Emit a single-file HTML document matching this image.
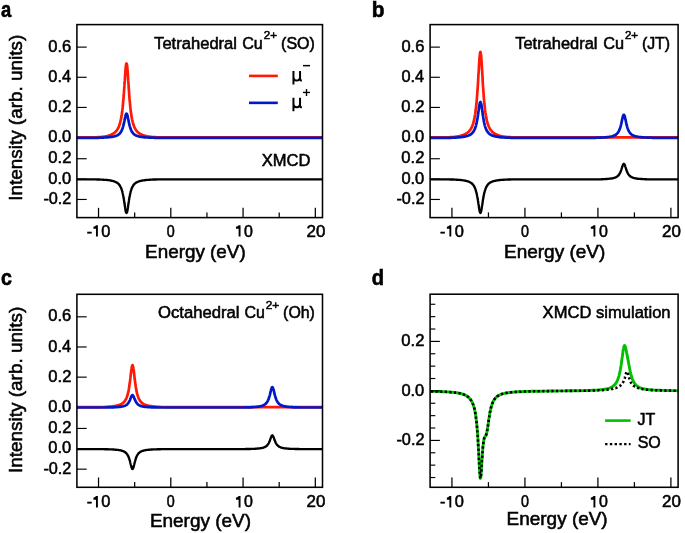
<!DOCTYPE html>
<html><head><meta charset="utf-8"><title>XMCD figure</title><style>
html,body{margin:0;padding:0;background:#fff;width:685px;height:533px;overflow:hidden;position:relative}
svg text{font-family:"Liberation Sans", sans-serif}
</style></head><body>
<svg width="685" height="533" viewBox="0 0 685 533" style="position:absolute;left:0;top:0;will-change:transform"><g font-family='"Liberation Sans", sans-serif' fill="#000" stroke="#000" stroke-width="0.55"><clipPath id="ca"><rect x="76.9" y="21.6" width="245.6" height="196.0"/></clipPath>
<line x1="98.53" y1="217.6" x2="98.53" y2="207.80" stroke="#000" stroke-width="1.25"/>
<line x1="170.80" y1="217.6" x2="170.80" y2="207.80" stroke="#000" stroke-width="1.25"/>
<line x1="243.07" y1="217.6" x2="243.07" y2="207.80" stroke="#000" stroke-width="1.25"/>
<line x1="315.33" y1="217.6" x2="315.33" y2="207.80" stroke="#000" stroke-width="1.25"/>
<line x1="134.67" y1="217.6" x2="134.67" y2="212.40" stroke="#000" stroke-width="1.25"/>
<line x1="206.93" y1="217.6" x2="206.93" y2="212.40" stroke="#000" stroke-width="1.25"/>
<line x1="279.20" y1="217.6" x2="279.20" y2="212.40" stroke="#000" stroke-width="1.25"/>
<line x1="76.9" y1="47.12" x2="86.70" y2="47.12" stroke="#000" stroke-width="1.15"/>
<line x1="76.9" y1="77.28" x2="86.70" y2="77.28" stroke="#000" stroke-width="1.15"/>
<line x1="76.9" y1="107.44" x2="86.70" y2="107.44" stroke="#000" stroke-width="1.15"/>
<line x1="76.9" y1="137.60" x2="86.70" y2="137.60" stroke="#000" stroke-width="1.15"/>
<line x1="76.9" y1="158.74" x2="86.70" y2="158.74" stroke="#000" stroke-width="1.15"/>
<line x1="76.9" y1="179.10" x2="86.70" y2="179.10" stroke="#000" stroke-width="1.15"/>
<line x1="76.9" y1="199.46" x2="86.70" y2="199.46" stroke="#000" stroke-width="1.15"/>
<path d="M73.2 137.4L74.1 137.4L75.0 137.4L75.8 137.4L76.7 137.4L77.6 137.4L78.4 137.4L79.3 137.4L80.2 137.4L81.0 137.4L81.9 137.4L82.8 137.4L83.6 137.4L84.5 137.4L85.4 137.4L86.2 137.4L87.1 137.4L88.0 137.4L88.8 137.4L89.7 137.4L90.6 137.4L91.5 137.4L92.3 137.4L93.2 137.3L94.1 137.3L94.9 137.3L95.8 137.3L96.7 137.3L97.5 137.2L98.4 137.2L99.3 137.1L100.1 137.0L101.0 137.0L101.9 136.9L102.7 136.8L103.6 136.7L104.5 136.5L105.3 136.4L106.2 136.2L107.1 136.0L107.9 135.8L108.8 135.6L109.4 135.4L109.6 135.3L109.7 135.3L109.8 135.2L110.0 135.2L110.2 135.1L110.5 135.0L110.7 134.9L110.9 134.8L111.1 134.7L111.3 134.6L111.4 134.6L111.5 134.5L111.8 134.4L112.0 134.3L112.2 134.2L112.3 134.2L112.4 134.1L112.6 134.0L112.8 133.9L113.1 133.8L113.1 133.7L113.3 133.6L113.5 133.5L113.7 133.3L113.9 133.2L114.0 133.1L114.1 133.0L114.4 132.9L114.6 132.7L114.8 132.5L114.9 132.5L115.0 132.3L115.2 132.1L115.4 131.9L115.7 131.7L115.7 131.6L115.9 131.5L116.1 131.2L116.3 131.0L116.5 130.7L116.6 130.6L116.7 130.4L117.0 130.1L117.2 129.8L117.4 129.5L117.5 129.4L117.6 129.1L117.8 128.7L118.0 128.3L118.3 127.9L118.3 127.8L118.5 127.4L118.7 126.9L118.9 126.4L119.1 125.9L119.2 125.7L119.3 125.3L119.6 124.6L119.8 123.9L120.0 123.2L120.1 122.9L120.2 122.4L120.4 121.5L120.6 120.6L120.9 119.6L120.9 119.2L121.1 118.5L121.3 117.3L121.5 116.0L121.7 114.7L121.8 114.2L121.9 113.2L122.2 111.6L122.4 109.8L122.6 107.9L122.7 107.2L122.8 105.9L123.0 103.6L123.2 101.3L123.5 98.7L123.5 97.8L123.7 96.0L123.9 93.1L124.1 90.1L124.3 86.9L124.4 85.9L124.5 83.7L124.8 80.4L125.0 77.2L125.2 74.1L125.3 73.1L125.4 71.2L125.6 68.6L125.8 66.4L126.1 64.8L126.1 64.4L126.3 63.8L126.5 63.5L126.7 63.8L126.9 64.8L127.0 65.3L127.2 66.4L127.4 68.6L127.6 71.2L127.8 74.1L127.9 75.1L128.0 77.2L128.2 80.4L128.5 83.7L128.7 86.9L128.7 88.0L128.9 90.1L129.1 93.1L129.3 96.0L129.5 98.7L129.6 99.6L129.8 101.3L130.0 103.6L130.2 105.9L130.4 107.9L130.5 108.6L130.6 109.8L130.8 111.6L131.1 113.2L131.3 114.7L131.3 115.1L131.5 116.0L131.7 117.3L131.9 118.5L132.1 119.6L132.2 119.9L132.4 120.6L132.6 121.5L132.8 122.4L133.0 123.2L133.1 123.4L133.2 123.9L133.4 124.6L133.7 125.3L133.9 125.9L133.9 126.1L134.1 126.4L134.3 126.9L134.5 127.4L134.7 127.9L134.8 128.0L135.0 128.3L135.2 128.7L135.4 129.1L135.6 129.5L135.7 129.6L135.8 129.8L136.0 130.1L136.3 130.4L136.5 130.7L136.5 130.8L136.7 131.0L136.9 131.2L137.1 131.5L137.3 131.7L137.4 131.8L137.6 131.9L137.8 132.1L138.0 132.3L138.2 132.5L138.3 132.6L138.4 132.7L138.6 132.9L138.9 133.0L139.1 133.2L139.3 133.3L139.5 133.5L139.7 133.6L139.9 133.8L140.0 133.8L140.2 133.9L140.4 134.0L140.6 134.1L140.8 134.2L140.9 134.3L141.0 134.3L141.2 134.4L141.5 134.5L141.7 134.6L141.7 134.7L141.9 134.7L142.1 134.8L142.3 134.9L142.5 135.0L142.6 135.0L142.8 135.1L143.0 135.2L143.2 135.2L143.4 135.3L143.5 135.3L143.6 135.4L143.8 135.4L144.1 135.5L144.3 135.6L144.4 135.6L144.5 135.6L144.7 135.7L144.9 135.8L145.1 135.8L145.2 135.8L145.4 135.9L146.1 136.0L147.0 136.2L147.8 136.4L148.7 136.6L149.6 136.7L150.4 136.8L151.3 136.9L152.2 137.0L153.0 137.1L153.9 137.1L154.8 137.2L155.6 137.2L156.5 137.3L157.4 137.3L158.2 137.3L159.1 137.3L160.0 137.3L160.8 137.4L161.7 137.4L162.6 137.4L163.4 137.4L164.3 137.4L165.2 137.4L166.0 137.4L166.9 137.4L167.8 137.4L168.6 137.4L169.5 137.4L170.4 137.4L171.2 137.4L172.1 137.4L173.0 137.4L173.8 137.4L174.7 137.4L175.6 137.4L176.4 137.4L177.3 137.4L178.2 137.4L179.0 137.4L179.9 137.4L180.8 137.4L181.6 137.4L182.5 137.4L183.4 137.4L184.2 137.4L185.1 137.4L186.0 137.4L186.8 137.4L187.7 137.4L188.6 137.4L189.4 137.4L190.3 137.4L191.2 137.4L192.0 137.4L192.9 137.4L193.8 137.4L194.6 137.4L195.5 137.4L196.4 137.4L197.2 137.4L198.1 137.4L199.0 137.4L199.9 137.4L200.7 137.4L201.6 137.4L202.5 137.4L203.3 137.4L204.2 137.4L205.1 137.4L205.9 137.4L206.8 137.4L207.7 137.4L208.5 137.4L209.4 137.4L210.3 137.4L211.1 137.4L212.0 137.4L212.9 137.4L213.7 137.4L214.6 137.4L215.5 137.4L216.3 137.4L217.2 137.4L218.1 137.4L218.9 137.4L219.8 137.4L220.7 137.4L221.5 137.4L222.4 137.4L223.3 137.4L224.1 137.4L225.0 137.4L225.9 137.4L226.7 137.4L227.6 137.4L228.5 137.4L229.3 137.4L230.2 137.4L231.1 137.4L231.9 137.4L232.8 137.4L233.7 137.4L234.5 137.4L235.4 137.4L236.3 137.4L237.1 137.4L238.0 137.4L238.9 137.4L239.7 137.4L240.6 137.4L241.5 137.4L242.3 137.4L243.2 137.4L244.1 137.4L244.9 137.4L245.8 137.4L246.7 137.4L247.5 137.4L248.4 137.4L249.3 137.4L250.1 137.4L251.0 137.4L251.9 137.4L252.8 137.4L253.6 137.4L254.5 137.4L255.4 137.4L256.2 137.4L257.1 137.4L257.5 137.4L257.7 137.4L258.0 137.4L258.2 137.4L258.4 137.4L258.6 137.4L258.8 137.4L259.0 137.4L259.3 137.4L259.5 137.4L259.7 137.4L259.9 137.4L260.1 137.4L260.3 137.4L260.6 137.4L260.8 137.4L261.0 137.4L261.2 137.4L261.4 137.4L261.6 137.4L261.9 137.4L262.1 137.4L262.3 137.4L262.5 137.4L262.7 137.4L262.9 137.4L263.2 137.4L263.4 137.4L263.6 137.4L263.8 137.4L264.0 137.4L264.2 137.4L264.5 137.4L264.7 137.4L264.9 137.4L265.1 137.4L265.3 137.4L265.5 137.4L265.8 137.4L266.0 137.4L266.2 137.4L266.4 137.4L266.6 137.4L266.8 137.4L267.1 137.4L267.3 137.4L267.5 137.4L267.7 137.4L267.9 137.4L268.1 137.4L268.4 137.4L268.6 137.4L268.8 137.4L269.0 137.4L269.2 137.4L269.4 137.4L269.7 137.4L269.9 137.4L270.1 137.4L270.3 137.4L270.5 137.4L270.7 137.4L271.0 137.4L271.2 137.4L271.4 137.4L271.6 137.4L271.8 137.4L272.0 137.4L272.3 137.4L272.5 137.4L272.7 137.4L272.9 137.4L273.1 137.4L273.3 137.4L273.6 137.4L273.8 137.4L274.0 137.4L274.2 137.4L274.4 137.4L274.6 137.4L274.9 137.4L275.1 137.4L275.3 137.4L275.5 137.4L275.7 137.4L275.9 137.4L276.2 137.4L276.4 137.4L276.6 137.4L276.8 137.4L277.0 137.4L277.2 137.4L277.5 137.4L277.7 137.4L277.9 137.4L278.1 137.4L278.3 137.4L278.6 137.4L278.8 137.4L279.0 137.4L279.2 137.4L279.4 137.4L279.6 137.4L279.9 137.4L280.1 137.4L280.3 137.4L280.5 137.4L280.7 137.4L280.9 137.4L281.2 137.4L281.4 137.4L281.6 137.4L281.8 137.4L282.0 137.4L282.2 137.4L282.5 137.4L282.7 137.4L282.9 137.4L283.1 137.4L283.3 137.4L283.5 137.4L283.8 137.4L284.0 137.4L284.2 137.4L284.4 137.4L284.6 137.4L284.8 137.4L285.1 137.4L285.3 137.4L285.5 137.4L285.7 137.4L285.9 137.4L286.1 137.4L286.4 137.4L286.6 137.4L287.4 137.4L288.3 137.4L289.2 137.4L290.0 137.4L290.9 137.4L291.8 137.4L292.6 137.4L293.5 137.4L294.4 137.4L295.2 137.4L296.1 137.4L297.0 137.4L297.8 137.4L298.7 137.4L299.6 137.4L300.4 137.4L301.3 137.4L302.2 137.4L303.0 137.4L303.9 137.4L304.8 137.4L305.7 137.4L306.5 137.4L307.4 137.4L308.3 137.4L309.1 137.4L310.0 137.4L310.9 137.4L311.7 137.4L312.6 137.4L313.5 137.4L314.3 137.4L315.2 137.4L316.1 137.4L316.9 137.4L317.8 137.4L318.7 137.4L319.5 137.4L320.4 137.4L321.3 137.4L322.1 137.4L323.0 137.4L323.9 137.4L324.7 137.4L325.6 137.4L326.5 137.4" fill="none" stroke="#ff1a08" stroke-width="2.7" stroke-linejoin="round" stroke-linecap="round" clip-path="url(#ca)" />
<path d="M73.2 137.8L74.1 137.8L75.0 137.8L75.8 137.8L76.7 137.8L77.6 137.8L78.4 137.8L79.3 137.8L80.2 137.8L81.0 137.8L81.9 137.8L82.8 137.8L83.6 137.8L84.5 137.8L85.4 137.8L86.2 137.8L87.1 137.8L88.0 137.8L88.8 137.8L89.7 137.8L90.6 137.8L91.5 137.8L92.3 137.8L93.2 137.8L94.1 137.8L94.9 137.8L95.8 137.8L96.7 137.8L97.5 137.8L98.4 137.8L99.3 137.7L100.1 137.7L101.0 137.7L101.9 137.7L102.7 137.6L103.6 137.6L104.5 137.5L105.3 137.5L106.2 137.4L107.1 137.4L107.9 137.3L108.8 137.2L109.4 137.2L109.6 137.2L109.7 137.1L109.8 137.1L110.0 137.1L110.2 137.1L110.5 137.1L110.5 137.0L110.7 137.0L110.9 137.0L111.1 137.0L111.3 136.9L111.4 136.9L111.5 136.9L111.8 136.9L112.0 136.8L112.2 136.8L112.3 136.8L112.4 136.8L112.6 136.7L112.8 136.7L113.1 136.6L113.3 136.6L113.5 136.6L113.7 136.5L113.9 136.5L114.0 136.4L114.1 136.4L114.4 136.4L114.6 136.3L114.8 136.2L114.9 136.2L115.0 136.2L115.2 136.1L115.4 136.0L115.7 136.0L115.9 135.9L116.1 135.8L116.3 135.7L116.5 135.7L116.6 135.6L116.7 135.6L117.0 135.5L117.2 135.4L117.4 135.2L117.5 135.2L117.6 135.1L117.8 135.0L118.0 134.9L118.3 134.7L118.5 134.6L118.7 134.4L118.9 134.3L119.1 134.1L119.2 134.0L119.3 133.9L119.6 133.7L119.8 133.4L120.0 133.2L120.1 133.1L120.2 132.9L120.4 132.6L120.6 132.3L120.9 132.0L120.9 131.9L121.1 131.7L121.3 131.3L121.5 130.9L121.7 130.4L121.8 130.3L121.9 129.9L122.2 129.4L122.4 128.8L122.6 128.2L122.7 128.0L122.8 127.5L123.0 126.8L123.2 126.0L123.5 125.2L123.5 124.9L123.7 124.3L123.9 123.4L124.1 122.4L124.3 121.4L124.4 121.0L124.5 120.3L124.8 119.2L125.0 118.2L125.2 117.2L125.3 116.8L125.4 116.2L125.6 115.4L125.8 114.7L126.1 114.1L126.1 114.0L126.3 113.8L126.5 113.7L126.7 113.8L126.9 114.1L127.0 114.3L127.2 114.7L127.4 115.4L127.6 116.2L127.8 117.2L127.9 117.5L128.0 118.2L128.2 119.2L128.5 120.3L128.7 121.4L128.7 121.7L128.9 122.4L129.1 123.4L129.3 124.3L129.5 125.2L129.6 125.5L129.8 126.0L130.0 126.8L130.2 127.5L130.4 128.2L130.5 128.4L130.6 128.8L130.8 129.4L131.1 129.9L131.3 130.4L131.3 130.6L131.5 130.9L131.7 131.3L131.9 131.7L132.1 132.0L132.2 132.1L132.4 132.3L132.6 132.6L132.8 132.9L133.0 133.2L133.1 133.3L133.2 133.4L133.4 133.7L133.7 133.9L133.9 134.1L134.1 134.3L134.3 134.4L134.5 134.6L134.7 134.7L134.8 134.8L135.0 134.9L135.2 135.0L135.4 135.1L135.6 135.2L135.7 135.3L135.8 135.4L136.0 135.5L136.3 135.6L136.5 135.7L136.7 135.7L136.9 135.8L137.1 135.9L137.3 136.0L137.4 136.0L137.6 136.0L137.8 136.1L138.0 136.2L138.2 136.2L138.3 136.3L138.4 136.3L138.6 136.4L138.9 136.4L139.1 136.5L139.3 136.5L139.5 136.6L139.7 136.6L139.9 136.6L140.0 136.7L140.2 136.7L140.4 136.7L140.6 136.8L140.8 136.8L140.9 136.8L141.0 136.8L141.2 136.9L141.5 136.9L141.7 136.9L141.9 137.0L142.1 137.0L142.3 137.0L142.5 137.1L142.6 137.1L142.8 137.1L143.0 137.1L143.2 137.1L143.4 137.2L143.5 137.2L143.6 137.2L143.8 137.2L144.1 137.2L144.3 137.2L144.4 137.2L144.5 137.3L144.7 137.3L144.9 137.3L145.1 137.3L145.2 137.3L145.4 137.3L146.1 137.4L147.0 137.5L147.8 137.5L148.7 137.6L149.6 137.6L150.4 137.6L151.3 137.7L152.2 137.7L153.0 137.7L153.9 137.7L154.8 137.8L155.6 137.8L156.5 137.8L157.4 137.8L158.2 137.8L159.1 137.8L160.0 137.8L160.8 137.8L161.7 137.8L162.6 137.8L163.4 137.8L164.3 137.8L165.2 137.8L166.0 137.8L166.9 137.8L167.8 137.8L168.6 137.8L169.5 137.8L170.4 137.8L171.2 137.8L172.1 137.8L173.0 137.8L173.8 137.8L174.7 137.8L175.6 137.8L176.4 137.8L177.3 137.8L178.2 137.8L179.0 137.8L179.9 137.8L180.8 137.8L181.6 137.8L182.5 137.8L183.4 137.8L184.2 137.8L185.1 137.8L186.0 137.8L186.8 137.8L187.7 137.8L188.6 137.8L189.4 137.8L190.3 137.8L191.2 137.8L192.0 137.8L192.9 137.8L193.8 137.8L194.6 137.8L195.5 137.8L196.4 137.8L197.2 137.8L198.1 137.8L199.0 137.8L199.9 137.8L200.7 137.8L201.6 137.8L202.5 137.8L203.3 137.8L204.2 137.8L205.1 137.8L205.9 137.8L206.8 137.8L207.7 137.8L208.5 137.8L209.4 137.8L210.3 137.8L211.1 137.8L212.0 137.8L212.9 137.8L213.7 137.8L214.6 137.8L215.5 137.8L216.3 137.8L217.2 137.8L218.1 137.8L218.9 137.8L219.8 137.8L220.7 137.8L221.5 137.8L222.4 137.8L223.3 137.8L224.1 137.8L225.0 137.8L225.9 137.8L226.7 137.8L227.6 137.8L228.5 137.8L229.3 137.8L230.2 137.8L231.1 137.8L231.9 137.8L232.8 137.8L233.7 137.8L234.5 137.8L235.4 137.8L236.3 137.8L237.1 137.8L238.0 137.8L238.9 137.8L239.7 137.8L240.6 137.8L241.5 137.8L242.3 137.8L243.2 137.8L244.1 137.8L244.9 137.8L245.8 137.8L246.7 137.8L247.5 137.8L248.4 137.8L249.3 137.8L250.1 137.8L251.0 137.8L251.9 137.8L252.8 137.8L253.6 137.8L254.5 137.8L255.4 137.8L256.2 137.8L257.1 137.8L257.5 137.8L257.7 137.8L258.0 137.8L258.2 137.8L258.4 137.8L258.6 137.8L258.8 137.8L259.0 137.8L259.3 137.8L259.5 137.8L259.7 137.8L259.9 137.8L260.1 137.8L260.3 137.8L260.6 137.8L260.8 137.8L261.0 137.8L261.2 137.8L261.4 137.8L261.6 137.8L261.9 137.8L262.1 137.8L262.3 137.8L262.5 137.8L262.7 137.8L262.9 137.8L263.2 137.8L263.4 137.8L263.6 137.8L263.8 137.8L264.0 137.8L264.2 137.8L264.5 137.8L264.7 137.8L264.9 137.8L265.1 137.8L265.3 137.8L265.5 137.8L265.8 137.8L266.0 137.8L266.2 137.8L266.4 137.8L266.6 137.8L266.8 137.8L267.1 137.8L267.3 137.8L267.5 137.8L267.7 137.8L267.9 137.8L268.1 137.8L268.4 137.8L268.6 137.8L268.8 137.8L269.0 137.8L269.2 137.8L269.4 137.8L269.7 137.8L269.9 137.8L270.1 137.8L270.3 137.8L270.5 137.8L270.7 137.8L271.0 137.8L271.2 137.8L271.4 137.8L271.6 137.8L271.8 137.8L272.0 137.8L272.3 137.8L272.5 137.8L272.7 137.8L272.9 137.8L273.1 137.8L273.3 137.8L273.6 137.8L273.8 137.8L274.0 137.8L274.2 137.8L274.4 137.8L274.6 137.8L274.9 137.8L275.1 137.8L275.3 137.8L275.5 137.8L275.7 137.8L275.9 137.8L276.2 137.8L276.4 137.8L276.6 137.8L276.8 137.8L277.0 137.8L277.2 137.8L277.5 137.8L277.7 137.8L277.9 137.8L278.1 137.8L278.3 137.8L278.6 137.8L278.8 137.8L279.0 137.8L279.2 137.8L279.4 137.8L279.6 137.8L279.9 137.8L280.1 137.8L280.3 137.8L280.5 137.8L280.7 137.8L280.9 137.8L281.2 137.8L281.4 137.8L281.6 137.8L281.8 137.8L282.0 137.8L282.2 137.8L282.5 137.8L282.7 137.8L282.9 137.8L283.1 137.8L283.3 137.8L283.5 137.8L283.8 137.8L284.0 137.8L284.2 137.8L284.4 137.8L284.6 137.8L284.8 137.8L285.1 137.8L285.3 137.8L285.5 137.8L285.7 137.8L285.9 137.8L286.1 137.8L286.4 137.8L286.6 137.8L287.4 137.8L288.3 137.8L289.2 137.8L290.0 137.8L290.9 137.8L291.8 137.8L292.6 137.8L293.5 137.8L294.4 137.8L295.2 137.8L296.1 137.8L297.0 137.8L297.8 137.8L298.7 137.8L299.6 137.8L300.4 137.8L301.3 137.8L302.2 137.8L303.0 137.8L303.9 137.8L304.8 137.8L305.7 137.8L306.5 137.8L307.4 137.8L308.3 137.8L309.1 137.8L310.0 137.8L310.9 137.8L311.7 137.8L312.6 137.8L313.5 137.8L314.3 137.8L315.2 137.8L316.1 137.8L316.9 137.8L317.8 137.8L318.7 137.8L319.5 137.8L320.4 137.8L321.3 137.8L322.1 137.8L323.0 137.8L323.9 137.8L324.7 137.8L325.6 137.8L326.5 137.8" fill="none" stroke="#0018c8" stroke-width="2.7" stroke-linejoin="round" stroke-linecap="round" clip-path="url(#ca)" />
<path d="M73.2 179.4L74.1 179.4L75.0 179.4L75.8 179.4L76.7 179.4L77.6 179.4L78.4 179.4L79.3 179.4L80.2 179.4L81.0 179.4L81.9 179.4L82.8 179.4L83.6 179.4L84.5 179.4L85.4 179.4L86.2 179.4L87.1 179.4L88.0 179.4L88.8 179.4L89.7 179.4L90.6 179.4L91.5 179.4L92.3 179.4L93.2 179.4L94.1 179.4L94.9 179.4L95.8 179.4L96.7 179.5L97.5 179.5L98.4 179.5L99.3 179.5L100.1 179.6L101.0 179.6L101.9 179.6L102.7 179.7L103.6 179.7L104.5 179.8L105.3 179.9L106.2 179.9L107.1 180.0L107.9 180.1L108.8 180.2L109.4 180.3L109.6 180.3L109.7 180.4L109.8 180.4L110.0 180.4L110.2 180.4L110.5 180.5L110.7 180.5L110.9 180.6L111.1 180.6L111.3 180.6L111.4 180.7L111.5 180.7L111.8 180.7L112.0 180.8L112.2 180.8L112.3 180.8L112.4 180.9L112.6 180.9L112.8 181.0L113.1 181.0L113.1 181.1L113.3 181.1L113.5 181.2L113.7 181.2L113.9 181.3L114.0 181.3L114.1 181.4L114.4 181.5L114.6 181.5L114.8 181.6L114.9 181.6L115.0 181.7L115.2 181.8L115.4 181.9L115.7 182.0L115.9 182.1L116.1 182.2L116.3 182.3L116.5 182.4L116.6 182.5L116.7 182.6L117.0 182.7L117.2 182.8L117.4 183.0L117.5 183.0L117.6 183.2L117.8 183.3L118.0 183.5L118.3 183.7L118.3 183.8L118.5 183.9L118.7 184.1L118.9 184.4L119.1 184.6L119.2 184.7L119.3 184.9L119.6 185.2L119.8 185.5L120.0 185.9L120.1 186.0L120.2 186.2L120.4 186.6L120.6 187.0L120.9 187.5L120.9 187.7L121.1 188.0L121.3 188.5L121.5 189.1L121.7 189.7L121.8 189.9L121.9 190.4L122.2 191.1L122.4 191.9L122.6 192.8L122.7 193.1L122.8 193.7L123.0 194.7L123.2 195.8L123.5 197.0L123.5 197.4L123.7 198.2L123.9 199.5L124.1 200.9L124.3 202.3L124.4 202.8L124.5 203.8L124.8 205.3L125.0 206.8L125.2 208.2L125.3 208.6L125.4 209.5L125.6 210.7L125.8 211.7L126.1 212.4L126.1 212.6L126.3 212.8L126.5 213.0L126.7 212.8L126.9 212.4L127.0 212.2L127.2 211.7L127.4 210.7L127.6 209.5L127.8 208.2L127.9 207.7L128.0 206.8L128.2 205.3L128.5 203.8L128.7 202.3L128.7 201.9L128.9 200.9L129.1 199.5L129.3 198.2L129.5 197.0L129.6 196.6L129.8 195.8L130.0 194.7L130.2 193.7L130.4 192.8L130.5 192.5L130.6 191.9L130.8 191.1L131.1 190.4L131.3 189.7L131.3 189.5L131.5 189.1L131.7 188.5L131.9 188.0L132.1 187.5L132.2 187.3L132.4 187.0L132.6 186.6L132.8 186.2L133.0 185.9L133.1 185.7L133.2 185.5L133.4 185.2L133.7 184.9L133.9 184.6L134.1 184.4L134.3 184.1L134.5 183.9L134.7 183.7L134.8 183.6L135.0 183.5L135.2 183.3L135.4 183.2L135.6 183.0L135.7 182.9L135.8 182.8L136.0 182.7L136.3 182.6L136.5 182.4L136.7 182.3L136.9 182.2L137.1 182.1L137.3 182.0L137.4 181.9L137.6 181.9L137.8 181.8L138.0 181.7L138.2 181.6L138.3 181.6L138.4 181.5L138.6 181.5L138.9 181.4L139.1 181.3L139.3 181.2L139.5 181.2L139.7 181.1L139.9 181.0L140.0 181.0L140.2 181.0L140.4 180.9L140.6 180.9L140.8 180.8L140.9 180.8L141.0 180.8L141.2 180.7L141.5 180.7L141.7 180.6L141.9 180.6L142.1 180.6L142.3 180.5L142.5 180.5L142.6 180.5L142.8 180.4L143.0 180.4L143.2 180.4L143.4 180.3L143.5 180.3L143.6 180.3L143.8 180.3L144.1 180.3L144.3 180.2L144.4 180.2L144.5 180.2L144.7 180.2L144.9 180.1L145.1 180.1L145.2 180.1L145.4 180.1L146.1 180.0L147.0 179.9L147.8 179.8L148.7 179.8L149.6 179.7L150.4 179.7L151.3 179.6L152.2 179.6L153.0 179.5L153.9 179.5L154.8 179.5L155.6 179.5L156.5 179.5L157.4 179.4L158.2 179.4L159.1 179.4L160.0 179.4L160.8 179.4L161.7 179.4L162.6 179.4L163.4 179.4L164.3 179.4L165.2 179.4L166.0 179.4L166.9 179.4L167.8 179.4L168.6 179.4L169.5 179.4L170.4 179.4L171.2 179.4L172.1 179.4L173.0 179.4L173.8 179.4L174.7 179.4L175.6 179.4L176.4 179.4L177.3 179.4L178.2 179.4L179.0 179.4L179.9 179.4L180.8 179.4L181.6 179.4L182.5 179.4L183.4 179.4L184.2 179.4L185.1 179.4L186.0 179.4L186.8 179.4L187.7 179.4L188.6 179.4L189.4 179.4L190.3 179.4L191.2 179.4L192.0 179.4L192.9 179.4L193.8 179.4L194.6 179.4L195.5 179.4L196.4 179.4L197.2 179.4L198.1 179.4L199.0 179.4L199.9 179.4L200.7 179.4L201.6 179.4L202.5 179.4L203.3 179.4L204.2 179.4L205.1 179.4L205.9 179.4L206.8 179.4L207.7 179.4L208.5 179.4L209.4 179.4L210.3 179.4L211.1 179.4L212.0 179.4L212.9 179.4L213.7 179.4L214.6 179.4L215.5 179.4L216.3 179.4L217.2 179.4L218.1 179.4L218.9 179.4L219.8 179.4L220.7 179.4L221.5 179.4L222.4 179.4L223.3 179.4L224.1 179.4L225.0 179.4L225.9 179.4L226.7 179.4L227.6 179.4L228.5 179.4L229.3 179.4L230.2 179.4L231.1 179.4L231.9 179.4L232.8 179.4L233.7 179.4L234.5 179.4L235.4 179.4L236.3 179.4L237.1 179.4L238.0 179.4L238.9 179.4L239.7 179.4L240.6 179.4L241.5 179.4L242.3 179.4L243.2 179.4L244.1 179.4L244.9 179.4L245.8 179.4L246.7 179.4L247.5 179.4L248.4 179.4L249.3 179.4L250.1 179.4L251.0 179.4L251.9 179.4L252.8 179.4L253.6 179.4L254.5 179.4L255.4 179.4L256.2 179.4L257.1 179.4L257.5 179.4L257.7 179.4L258.0 179.4L258.2 179.4L258.4 179.4L258.6 179.4L258.8 179.4L259.0 179.4L259.3 179.4L259.5 179.4L259.7 179.4L259.9 179.4L260.1 179.4L260.3 179.4L260.6 179.4L260.8 179.4L261.0 179.4L261.2 179.4L261.4 179.4L261.6 179.4L261.9 179.4L262.1 179.4L262.3 179.4L262.5 179.4L262.7 179.4L262.9 179.4L263.2 179.4L263.4 179.4L263.6 179.4L263.8 179.4L264.0 179.4L264.2 179.4L264.5 179.4L264.7 179.4L264.9 179.4L265.1 179.4L265.3 179.4L265.5 179.4L265.8 179.4L266.0 179.4L266.2 179.4L266.4 179.4L266.6 179.4L266.8 179.4L267.1 179.4L267.3 179.4L267.5 179.4L267.7 179.4L267.9 179.4L268.1 179.4L268.4 179.4L268.6 179.4L268.8 179.4L269.0 179.4L269.2 179.4L269.4 179.4L269.7 179.4L269.9 179.4L270.1 179.4L270.3 179.4L270.5 179.4L270.7 179.4L271.0 179.4L271.2 179.4L271.4 179.4L271.6 179.4L271.8 179.4L272.0 179.4L272.3 179.4L272.5 179.4L272.7 179.4L272.9 179.4L273.1 179.4L273.3 179.4L273.6 179.4L273.8 179.4L274.0 179.4L274.2 179.4L274.4 179.4L274.6 179.4L274.9 179.4L275.1 179.4L275.3 179.4L275.5 179.4L275.7 179.4L275.9 179.4L276.2 179.4L276.4 179.4L276.6 179.4L276.8 179.4L277.0 179.4L277.2 179.4L277.5 179.4L277.7 179.4L277.9 179.4L278.1 179.4L278.3 179.4L278.6 179.4L278.8 179.4L279.0 179.4L279.2 179.4L279.4 179.4L279.6 179.4L279.9 179.4L280.1 179.4L280.3 179.4L280.5 179.4L280.7 179.4L280.9 179.4L281.2 179.4L281.4 179.4L281.6 179.4L281.8 179.4L282.0 179.4L282.2 179.4L282.5 179.4L282.7 179.4L282.9 179.4L283.1 179.4L283.3 179.4L283.5 179.4L283.8 179.4L284.0 179.4L284.2 179.4L284.4 179.4L284.6 179.4L284.8 179.4L285.1 179.4L285.3 179.4L285.5 179.4L285.7 179.4L285.9 179.4L286.1 179.4L286.4 179.4L286.6 179.4L287.4 179.4L288.3 179.4L289.2 179.4L290.0 179.4L290.9 179.4L291.8 179.4L292.6 179.4L293.5 179.4L294.4 179.4L295.2 179.4L296.1 179.4L297.0 179.4L297.8 179.4L298.7 179.4L299.6 179.4L300.4 179.4L301.3 179.4L302.2 179.4L303.0 179.4L303.9 179.4L304.8 179.4L305.7 179.4L306.5 179.4L307.4 179.4L308.3 179.4L309.1 179.4L310.0 179.4L310.9 179.4L311.7 179.4L312.6 179.4L313.5 179.4L314.3 179.4L315.2 179.4L316.1 179.4L316.9 179.4L317.8 179.4L318.7 179.4L319.5 179.4L320.4 179.4L321.3 179.4L322.1 179.4L323.0 179.4L323.9 179.4L324.7 179.4L325.6 179.4L326.5 179.4" fill="none" stroke="#000" stroke-width="2.35" stroke-linejoin="round" stroke-linecap="round" clip-path="url(#ca)" />
<rect x="76.9" y="24.6" width="245.60" height="193.00" fill="none" stroke="#000" stroke-width="1.55"/>
<clipPath id="cb"><rect x="430.1" y="21.6" width="248.0" height="196.0"/></clipPath>
<line x1="451.94" y1="217.6" x2="451.94" y2="207.80" stroke="#000" stroke-width="1.25"/>
<line x1="524.93" y1="217.6" x2="524.93" y2="207.80" stroke="#000" stroke-width="1.25"/>
<line x1="597.92" y1="217.6" x2="597.92" y2="207.80" stroke="#000" stroke-width="1.25"/>
<line x1="670.90" y1="217.6" x2="670.90" y2="207.80" stroke="#000" stroke-width="1.25"/>
<line x1="488.44" y1="217.6" x2="488.44" y2="212.40" stroke="#000" stroke-width="1.25"/>
<line x1="561.42" y1="217.6" x2="561.42" y2="212.40" stroke="#000" stroke-width="1.25"/>
<line x1="634.41" y1="217.6" x2="634.41" y2="212.40" stroke="#000" stroke-width="1.25"/>
<line x1="430.1" y1="47.12" x2="439.90" y2="47.12" stroke="#000" stroke-width="1.15"/>
<line x1="430.1" y1="77.28" x2="439.90" y2="77.28" stroke="#000" stroke-width="1.15"/>
<line x1="430.1" y1="107.44" x2="439.90" y2="107.44" stroke="#000" stroke-width="1.15"/>
<line x1="430.1" y1="137.60" x2="439.90" y2="137.60" stroke="#000" stroke-width="1.15"/>
<line x1="430.1" y1="158.74" x2="439.90" y2="158.74" stroke="#000" stroke-width="1.15"/>
<line x1="430.1" y1="179.10" x2="439.90" y2="179.10" stroke="#000" stroke-width="1.15"/>
<line x1="430.1" y1="199.46" x2="439.90" y2="199.46" stroke="#000" stroke-width="1.15"/>
<path d="M426.4 137.4L427.3 137.4L428.2 137.4L429.0 137.4L429.9 137.4L430.8 137.4L431.7 137.4L432.5 137.4L433.4 137.4L434.3 137.4L435.2 137.4L436.0 137.4L436.9 137.4L437.8 137.4L438.7 137.4L439.5 137.4L440.4 137.4L441.3 137.4L442.2 137.4L443.0 137.4L443.9 137.4L444.8 137.4L445.7 137.4L446.5 137.3L447.4 137.3L448.3 137.3L449.2 137.3L450.0 137.2L450.9 137.2L451.8 137.2L452.7 137.1L453.5 137.0L454.4 136.9L455.3 136.8L456.2 136.7L457.1 136.6L457.9 136.4L458.8 136.3L459.7 136.1L460.6 135.9L461.4 135.6L462.3 135.3L462.9 135.1L463.1 135.1L463.2 135.0L463.3 135.0L463.5 134.9L463.8 134.8L464.0 134.7L464.1 134.7L464.2 134.6L464.4 134.5L464.6 134.4L464.9 134.3L465.1 134.2L465.3 134.1L465.5 134.0L465.7 133.9L465.8 133.8L466.0 133.7L466.2 133.6L466.4 133.5L466.6 133.3L466.7 133.3L466.8 133.2L467.1 133.0L467.3 132.9L467.5 132.7L467.6 132.7L467.7 132.5L467.9 132.4L468.1 132.2L468.4 132.0L468.4 131.9L468.6 131.8L468.8 131.5L469.0 131.3L469.2 131.1L469.3 131.0L469.5 130.8L469.7 130.6L469.9 130.3L470.1 130.0L470.2 129.9L470.3 129.7L470.6 129.3L470.8 129.0L471.0 128.6L471.1 128.5L471.2 128.2L471.4 127.8L471.7 127.4L471.9 126.9L471.9 126.7L472.1 126.4L472.3 125.9L472.5 125.3L472.7 124.7L472.8 124.5L473.0 124.1L473.2 123.4L473.4 122.6L473.6 121.8L473.7 121.5L473.8 121.0L474.1 120.0L474.3 119.0L474.5 117.9L474.6 117.6L474.7 116.8L474.9 115.5L475.2 114.2L475.4 112.7L475.4 112.2L475.6 111.1L475.8 109.4L476.0 107.5L476.2 105.5L476.3 104.8L476.5 103.3L476.7 100.9L476.9 98.3L477.1 95.6L477.2 94.6L477.3 92.6L477.6 89.5L477.8 86.2L478.0 82.7L478.1 81.5L478.2 79.0L478.4 75.3L478.7 71.5L478.9 67.7L478.9 66.5L479.1 64.1L479.3 60.8L479.5 57.8L479.8 55.3L479.8 54.6L480.0 53.4L480.2 52.3L480.4 51.9L480.6 52.3L480.7 52.6L480.8 53.4L481.1 55.3L481.3 57.8L481.5 60.8L481.6 61.9L481.7 64.1L481.9 67.7L482.2 71.5L482.4 75.3L482.5 76.5L482.6 79.0L482.8 82.7L483.0 86.2L483.3 89.5L483.3 90.6L483.5 92.6L483.7 95.6L483.9 98.3L484.1 100.9L484.2 101.7L484.3 103.3L484.6 105.5L484.8 107.5L485.0 109.4L485.1 110.0L485.2 111.1L485.4 112.7L485.7 114.2L485.9 115.5L486.0 116.0L486.1 116.8L486.3 117.9L486.5 119.0L486.8 120.0L486.8 120.3L487.0 121.0L487.2 121.8L487.4 122.6L487.6 123.4L487.7 123.6L487.9 124.1L488.1 124.7L488.3 125.3L488.5 125.9L488.6 126.1L488.7 126.4L488.9 126.9L489.2 127.4L489.4 127.8L489.5 128.0L489.6 128.2L489.8 128.6L490.0 129.0L490.3 129.3L490.3 129.5L490.5 129.7L490.7 130.0L490.9 130.3L491.1 130.6L491.2 130.6L491.4 130.8L491.6 131.1L491.8 131.3L492.0 131.5L492.1 131.6L492.2 131.8L492.5 132.0L492.7 132.2L492.9 132.4L493.0 132.4L493.1 132.5L493.3 132.7L493.5 132.9L493.8 133.0L493.8 133.1L494.0 133.2L494.2 133.3L494.4 133.5L494.6 133.6L494.7 133.7L494.9 133.7L495.1 133.9L495.3 134.0L495.5 134.1L495.6 134.1L495.7 134.2L496.0 134.3L496.2 134.4L496.4 134.5L496.5 134.6L496.6 134.6L496.8 134.7L497.0 134.8L497.3 134.9L497.5 135.0L497.7 135.1L497.9 135.1L498.1 135.2L498.2 135.2L498.4 135.3L498.6 135.4L498.8 135.4L499.0 135.5L499.1 135.5L499.2 135.6L500.0 135.8L500.8 136.0L501.7 136.2L502.6 136.4L503.5 136.5L504.3 136.7L505.2 136.8L506.1 136.9L507.0 137.0L507.9 137.1L508.7 137.1L509.6 137.2L510.5 137.2L511.4 137.3L512.2 137.3L513.1 137.3L514.0 137.3L514.9 137.3L515.7 137.4L516.6 137.4L517.5 137.4L518.4 137.4L519.2 137.4L520.1 137.4L521.0 137.4L521.9 137.4L522.7 137.4L523.6 137.4L524.5 137.4L525.4 137.4L526.2 137.4L527.1 137.4L528.0 137.4L528.9 137.4L529.7 137.4L530.6 137.4L531.5 137.4L532.4 137.4L533.3 137.4L534.1 137.4L535.0 137.4L535.9 137.4L536.8 137.4L537.6 137.4L538.5 137.4L539.4 137.4L540.3 137.4L541.1 137.4L542.0 137.4L542.9 137.4L543.8 137.4L544.6 137.4L545.5 137.4L546.4 137.4L547.3 137.4L548.1 137.4L549.0 137.4L549.9 137.4L550.8 137.4L551.6 137.4L552.5 137.4L553.4 137.4L554.3 137.4L555.1 137.4L556.0 137.4L556.9 137.4L557.8 137.4L558.6 137.4L559.5 137.4L560.4 137.4L561.3 137.4L562.2 137.4L563.0 137.4L563.9 137.4L564.8 137.4L565.7 137.4L566.5 137.4L567.4 137.4L568.3 137.4L569.2 137.4L570.0 137.4L570.9 137.4L571.8 137.4L572.7 137.4L573.5 137.4L574.4 137.4L575.3 137.4L576.2 137.4L577.0 137.4L577.9 137.4L578.8 137.4L579.7 137.4L580.5 137.4L581.4 137.4L582.3 137.4L583.2 137.4L584.0 137.4L584.9 137.4L585.8 137.4L586.7 137.4L587.6 137.4L588.4 137.4L589.3 137.4L590.2 137.4L591.1 137.4L591.9 137.4L592.8 137.4L593.7 137.4L594.6 137.4L595.4 137.4L596.3 137.4L597.2 137.4L598.1 137.4L598.9 137.4L599.8 137.4L600.7 137.4L601.6 137.4L602.4 137.4L603.3 137.4L604.2 137.4L605.1 137.4L605.9 137.4L606.8 137.4L607.7 137.4L608.6 137.4L609.4 137.4L610.3 137.4L611.2 137.4L612.1 137.4L612.5 137.4L612.7 137.4L613.0 137.4L613.2 137.4L613.4 137.4L613.6 137.4L613.8 137.4L614.0 137.4L614.3 137.4L614.5 137.4L614.7 137.4L614.9 137.4L615.1 137.4L615.4 137.4L615.6 137.4L615.8 137.4L616.0 137.4L616.2 137.4L616.5 137.4L616.7 137.4L616.9 137.4L617.1 137.4L617.3 137.4L617.5 137.4L617.8 137.4L618.0 137.4L618.2 137.4L618.4 137.4L618.6 137.4L618.9 137.4L619.1 137.4L619.3 137.4L619.5 137.4L619.7 137.4L620.0 137.4L620.2 137.4L620.4 137.4L620.6 137.4L620.8 137.4L621.1 137.4L621.3 137.4L621.5 137.4L621.7 137.4L621.9 137.4L622.1 137.4L622.4 137.4L622.6 137.4L622.8 137.4L623.0 137.4L623.2 137.4L623.5 137.4L623.7 137.4L623.9 137.4L624.1 137.4L624.3 137.4L624.6 137.4L624.8 137.4L625.0 137.4L625.2 137.4L625.4 137.4L625.7 137.4L625.9 137.4L626.1 137.4L626.3 137.4L626.5 137.4L626.7 137.4L627.0 137.4L627.2 137.4L627.4 137.4L627.6 137.4L627.8 137.4L628.1 137.4L628.3 137.4L628.5 137.4L628.7 137.4L628.9 137.4L629.2 137.4L629.4 137.4L629.6 137.4L629.8 137.4L630.0 137.4L630.2 137.4L630.5 137.4L630.7 137.4L630.9 137.4L631.1 137.4L631.3 137.4L631.6 137.4L631.8 137.4L632.0 137.4L632.2 137.4L632.4 137.4L632.7 137.4L632.9 137.4L633.1 137.4L633.3 137.4L633.5 137.4L633.8 137.4L634.0 137.4L634.2 137.4L634.4 137.4L634.6 137.4L634.8 137.4L635.1 137.4L635.3 137.4L635.5 137.4L635.7 137.4L635.9 137.4L636.2 137.4L636.4 137.4L636.6 137.4L636.8 137.4L637.0 137.4L637.3 137.4L637.5 137.4L637.7 137.4L637.9 137.4L638.1 137.4L638.4 137.4L638.6 137.4L638.8 137.4L639.0 137.4L639.2 137.4L639.4 137.4L639.7 137.4L639.9 137.4L640.1 137.4L640.3 137.4L640.5 137.4L640.8 137.4L641.0 137.4L641.2 137.4L641.4 137.4L641.6 137.4L641.9 137.4L642.7 137.4L643.6 137.4L644.5 137.4L645.4 137.4L646.2 137.4L647.1 137.4L648.0 137.4L648.9 137.4L649.7 137.4L650.6 137.4L651.5 137.4L652.4 137.4L653.2 137.4L654.1 137.4L655.0 137.4L655.9 137.4L656.7 137.4L657.6 137.4L658.5 137.4L659.4 137.4L660.2 137.4L661.1 137.4L662.0 137.4L662.9 137.4L663.7 137.4L664.6 137.4L665.5 137.4L666.4 137.4L667.3 137.4L668.1 137.4L669.0 137.4L669.9 137.4L670.8 137.4L671.6 137.4L672.5 137.4L673.4 137.4L674.3 137.4L675.1 137.4L676.0 137.4L676.9 137.4L677.8 137.4L678.6 137.4L679.5 137.4L680.4 137.4L681.3 137.4L682.1 137.4" fill="none" stroke="#ff1a08" stroke-width="2.7" stroke-linejoin="round" stroke-linecap="round" clip-path="url(#cb)" />
<path d="M426.4 137.8L427.3 137.8L428.2 137.8L429.0 137.8L429.9 137.8L430.8 137.8L431.7 137.8L432.5 137.8L433.4 137.8L434.3 137.8L435.2 137.8L436.0 137.8L436.9 137.8L437.8 137.8L438.7 137.8L439.5 137.8L440.4 137.8L441.3 137.8L442.2 137.8L443.0 137.8L443.9 137.8L444.8 137.8L445.7 137.8L446.5 137.8L447.4 137.8L448.3 137.8L449.2 137.8L450.0 137.8L450.9 137.8L451.8 137.7L452.7 137.7L453.5 137.7L454.4 137.6L455.3 137.6L456.2 137.6L457.1 137.5L457.9 137.4L458.8 137.4L459.7 137.3L460.6 137.2L461.4 137.1L462.3 137.0L462.9 136.9L463.1 136.9L463.2 136.8L463.3 136.8L463.5 136.8L463.8 136.7L464.0 136.7L464.1 136.7L464.2 136.7L464.4 136.6L464.6 136.6L464.9 136.5L465.1 136.5L465.3 136.5L465.5 136.4L465.7 136.4L465.8 136.3L466.0 136.3L466.2 136.2L466.4 136.2L466.6 136.1L466.7 136.1L466.8 136.1L467.1 136.0L467.3 135.9L467.5 135.9L467.6 135.8L467.7 135.8L467.9 135.7L468.1 135.6L468.4 135.6L468.4 135.5L468.6 135.5L468.8 135.4L469.0 135.3L469.2 135.2L469.3 135.1L469.5 135.1L469.7 135.0L469.9 134.8L470.1 134.7L470.2 134.7L470.3 134.6L470.6 134.5L470.8 134.3L471.0 134.2L471.1 134.1L471.2 134.0L471.4 133.8L471.7 133.6L471.9 133.4L472.1 133.2L472.3 133.0L472.5 132.8L472.7 132.5L472.8 132.4L473.0 132.2L473.2 131.9L473.4 131.6L473.6 131.3L473.7 131.2L473.8 130.9L474.1 130.5L474.3 130.1L474.5 129.7L474.6 129.5L474.7 129.2L474.9 128.7L475.2 128.1L475.4 127.5L475.4 127.2L475.6 126.8L475.8 126.1L476.0 125.3L476.2 124.4L476.3 124.1L476.5 123.5L476.7 122.5L476.9 121.4L477.1 120.3L477.2 119.9L477.3 119.1L477.6 117.7L477.8 116.3L478.0 114.9L478.1 114.4L478.2 113.3L478.4 111.8L478.7 110.2L478.9 108.6L478.9 108.1L479.1 107.1L479.3 105.7L479.5 104.4L479.8 103.4L479.8 103.1L480.0 102.6L480.2 102.1L480.4 101.9L480.6 102.1L480.7 102.2L480.8 102.6L481.1 103.4L481.3 104.4L481.5 105.7L481.6 106.1L481.7 107.1L481.9 108.6L482.2 110.2L482.4 111.8L482.5 112.3L482.6 113.3L482.8 114.9L483.0 116.3L483.3 117.7L483.3 118.2L483.5 119.1L483.7 120.3L483.9 121.4L484.1 122.5L484.2 122.9L484.3 123.5L484.6 124.4L484.8 125.3L485.0 126.1L485.1 126.3L485.2 126.8L485.4 127.5L485.7 128.1L485.9 128.7L486.0 128.8L486.1 129.2L486.3 129.7L486.5 130.1L486.8 130.5L486.8 130.7L487.0 130.9L487.2 131.3L487.4 131.6L487.6 131.9L487.7 132.0L487.9 132.2L488.1 132.5L488.3 132.8L488.5 133.0L488.6 133.1L488.7 133.2L488.9 133.4L489.2 133.6L489.4 133.8L489.5 133.9L489.6 134.0L489.8 134.2L490.0 134.3L490.3 134.5L490.5 134.6L490.7 134.7L490.9 134.8L491.1 135.0L491.2 135.0L491.4 135.1L491.6 135.2L491.8 135.3L492.0 135.4L492.1 135.4L492.2 135.5L492.5 135.6L492.7 135.6L492.9 135.7L493.0 135.7L493.1 135.8L493.3 135.9L493.5 135.9L493.8 136.0L494.0 136.1L494.2 136.1L494.4 136.2L494.6 136.2L494.7 136.3L494.9 136.3L495.1 136.4L495.3 136.4L495.5 136.5L495.6 136.5L495.7 136.5L496.0 136.5L496.2 136.6L496.4 136.6L496.5 136.6L496.6 136.7L496.8 136.7L497.0 136.7L497.3 136.8L497.5 136.8L497.7 136.9L497.9 136.9L498.1 136.9L498.2 136.9L498.4 137.0L498.6 137.0L498.8 137.0L499.0 137.0L499.1 137.1L499.2 137.1L500.0 137.2L500.8 137.3L501.7 137.3L502.6 137.4L503.5 137.5L504.3 137.5L505.2 137.6L506.1 137.6L507.0 137.7L507.9 137.7L508.7 137.7L509.6 137.7L510.5 137.8L511.4 137.8L512.2 137.8L513.1 137.8L514.0 137.8L514.9 137.8L515.7 137.8L516.6 137.8L517.5 137.8L518.4 137.8L519.2 137.8L520.1 137.8L521.0 137.8L521.9 137.8L522.7 137.8L523.6 137.8L524.5 137.8L525.4 137.8L526.2 137.8L527.1 137.8L528.0 137.8L528.9 137.8L529.7 137.8L530.6 137.8L531.5 137.8L532.4 137.8L533.3 137.8L534.1 137.8L535.0 137.8L535.9 137.8L536.8 137.8L537.6 137.8L538.5 137.8L539.4 137.8L540.3 137.8L541.1 137.8L542.0 137.8L542.9 137.8L543.8 137.8L544.6 137.8L545.5 137.8L546.4 137.8L547.3 137.8L548.1 137.8L549.0 137.8L549.9 137.8L550.8 137.8L551.6 137.8L552.5 137.8L553.4 137.8L554.3 137.8L555.1 137.8L556.0 137.8L556.9 137.8L557.8 137.8L558.6 137.8L559.5 137.8L560.4 137.8L561.3 137.8L562.2 137.8L563.0 137.8L563.9 137.8L564.8 137.8L565.7 137.8L566.5 137.8L567.4 137.8L568.3 137.8L569.2 137.8L570.0 137.8L570.9 137.8L571.8 137.8L572.7 137.8L573.5 137.8L574.4 137.8L575.3 137.8L576.2 137.8L577.0 137.8L577.9 137.8L578.8 137.8L579.7 137.8L580.5 137.8L581.4 137.8L582.3 137.8L583.2 137.8L584.0 137.8L584.9 137.8L585.8 137.8L586.7 137.8L587.6 137.8L588.4 137.8L589.3 137.8L590.2 137.8L591.1 137.8L591.9 137.8L592.8 137.8L593.7 137.8L594.6 137.8L595.4 137.8L596.3 137.7L597.2 137.7L598.1 137.7L598.9 137.7L599.8 137.6L600.7 137.6L601.6 137.6L602.4 137.5L603.3 137.5L604.2 137.4L605.1 137.3L605.9 137.3L606.8 137.2L607.7 137.1L608.6 137.0L609.4 136.8L610.3 136.7L611.2 136.5L612.1 136.3L612.5 136.2L612.7 136.1L613.0 136.0L613.2 136.0L613.4 135.9L613.6 135.8L613.8 135.7L614.0 135.6L614.3 135.5L614.5 135.4L614.7 135.3L614.9 135.2L615.1 135.1L615.4 135.0L615.6 134.8L615.8 134.7L616.0 134.5L616.2 134.4L616.5 134.2L616.7 134.0L616.9 133.8L617.1 133.6L617.3 133.3L617.5 133.1L617.8 132.8L618.0 132.5L618.2 132.2L618.4 131.8L618.6 131.4L618.9 131.0L619.1 130.6L619.3 130.1L619.5 129.6L619.7 129.0L620.0 128.4L620.2 127.8L620.4 127.1L620.6 126.3L620.8 125.5L621.1 124.6L621.3 123.7L621.5 122.7L621.7 121.7L621.9 120.7L622.1 119.7L622.4 118.7L622.6 117.8L622.8 116.9L623.0 116.1L623.2 115.5L623.5 115.0L623.7 114.8L623.9 114.8L624.1 114.9L624.3 115.3L624.6 115.9L624.8 116.6L625.0 117.4L625.2 118.4L625.4 119.4L625.7 120.4L625.9 121.4L626.1 122.4L626.3 123.4L626.5 124.3L626.7 125.2L627.0 126.0L627.2 126.8L627.4 127.5L627.6 128.2L627.8 128.8L628.1 129.4L628.3 129.9L628.5 130.4L628.7 130.9L628.9 131.3L629.2 131.7L629.4 132.0L629.6 132.4L629.8 132.7L630.0 133.0L630.2 133.2L630.5 133.5L630.7 133.7L630.9 133.9L631.1 134.1L631.3 134.3L631.6 134.5L631.8 134.6L632.0 134.8L632.2 134.9L632.4 135.0L632.7 135.2L632.9 135.3L633.1 135.4L633.3 135.5L633.5 135.6L633.8 135.7L634.0 135.8L634.2 135.9L634.4 135.9L634.6 136.0L634.8 136.1L635.1 136.1L635.3 136.2L635.5 136.3L635.7 136.3L635.9 136.4L636.2 136.4L636.4 136.5L636.6 136.5L636.8 136.6L637.0 136.6L637.3 136.7L637.5 136.7L637.7 136.7L637.9 136.8L638.1 136.8L638.4 136.9L638.6 136.9L638.8 136.9L639.0 137.0L639.2 137.0L639.4 137.0L639.7 137.0L639.9 137.1L640.1 137.1L640.3 137.1L640.5 137.1L640.8 137.2L641.0 137.2L641.2 137.2L641.4 137.2L641.6 137.3L641.9 137.3L642.7 137.3L643.6 137.4L644.5 137.5L645.4 137.5L646.2 137.6L647.1 137.6L648.0 137.6L648.9 137.7L649.7 137.7L650.6 137.7L651.5 137.7L652.4 137.8L653.2 137.8L654.1 137.8L655.0 137.8L655.9 137.8L656.7 137.8L657.6 137.8L658.5 137.8L659.4 137.8L660.2 137.8L661.1 137.8L662.0 137.8L662.9 137.8L663.7 137.8L664.6 137.8L665.5 137.8L666.4 137.8L667.3 137.8L668.1 137.8L669.0 137.8L669.9 137.8L670.8 137.8L671.6 137.8L672.5 137.8L673.4 137.8L674.3 137.8L675.1 137.8L676.0 137.8L676.9 137.8L677.8 137.8L678.6 137.8L679.5 137.8L680.4 137.8L681.3 137.8L682.1 137.8" fill="none" stroke="#0018c8" stroke-width="2.7" stroke-linejoin="round" stroke-linecap="round" clip-path="url(#cb)" />
<path d="M426.4 179.4L427.3 179.4L428.2 179.4L429.0 179.4L429.9 179.4L430.8 179.4L431.7 179.4L432.5 179.4L433.4 179.4L434.3 179.4L435.2 179.4L436.0 179.4L436.9 179.4L437.8 179.4L438.7 179.4L439.5 179.4L440.4 179.4L441.3 179.4L442.2 179.4L443.0 179.4L443.9 179.4L444.8 179.4L445.7 179.4L446.5 179.4L447.4 179.4L448.3 179.4L449.2 179.4L450.0 179.5L450.9 179.5L451.8 179.5L452.7 179.5L453.5 179.5L454.4 179.6L455.3 179.6L456.2 179.7L457.1 179.7L457.9 179.8L458.8 179.8L459.7 179.9L460.6 180.0L461.4 180.1L462.3 180.2L462.9 180.3L463.1 180.3L463.2 180.3L463.3 180.3L463.5 180.4L463.8 180.4L464.0 180.4L464.1 180.5L464.2 180.5L464.4 180.5L464.6 180.6L464.9 180.6L465.1 180.6L465.3 180.7L465.5 180.7L465.7 180.8L465.8 180.8L466.0 180.8L466.2 180.9L466.4 180.9L466.6 181.0L466.7 181.0L466.8 181.0L467.1 181.1L467.3 181.2L467.5 181.2L467.6 181.3L467.7 181.3L467.9 181.4L468.1 181.4L468.4 181.5L468.6 181.6L468.8 181.7L469.0 181.8L469.2 181.9L469.3 181.9L469.5 182.0L469.7 182.1L469.9 182.2L470.1 182.3L470.2 182.3L470.3 182.4L470.6 182.6L470.8 182.7L471.0 182.8L471.1 182.9L471.2 183.0L471.4 183.1L471.7 183.3L471.9 183.5L471.9 183.6L472.1 183.7L472.3 183.9L472.5 184.1L472.7 184.4L472.8 184.5L473.0 184.6L473.2 184.9L473.4 185.2L473.6 185.5L473.7 185.6L473.8 185.8L474.1 186.2L474.3 186.6L474.5 187.0L474.6 187.2L474.7 187.5L474.9 188.0L475.2 188.5L475.4 189.1L475.4 189.3L475.6 189.7L475.8 190.4L476.0 191.1L476.2 191.9L476.3 192.2L476.5 192.8L476.7 193.7L476.9 194.7L477.1 195.8L477.2 196.1L477.3 196.9L477.6 198.2L477.8 199.5L478.0 200.8L478.1 201.3L478.2 202.3L478.4 203.7L478.7 205.2L478.9 206.7L478.9 207.2L479.1 208.1L479.3 209.4L479.5 210.6L479.8 211.6L479.8 211.8L480.0 212.3L480.2 212.7L480.4 212.9L480.6 212.7L480.7 212.6L480.8 212.3L481.1 211.6L481.3 210.6L481.5 209.4L481.6 209.0L481.7 208.1L481.9 206.7L482.2 205.2L482.4 203.7L482.5 203.2L482.6 202.3L482.8 200.8L483.0 199.5L483.3 198.2L483.3 197.7L483.5 196.9L483.7 195.8L483.9 194.7L484.1 193.7L484.2 193.4L484.3 192.8L484.6 191.9L484.8 191.1L485.0 190.4L485.1 190.1L485.2 189.7L485.4 189.1L485.7 188.5L485.9 188.0L486.0 187.8L486.1 187.5L486.3 187.0L486.5 186.6L486.8 186.2L486.8 186.1L487.0 185.8L487.2 185.5L487.4 185.2L487.6 184.9L487.7 184.8L487.9 184.6L488.1 184.4L488.3 184.1L488.5 183.9L488.6 183.8L488.7 183.7L488.9 183.5L489.2 183.3L489.4 183.1L489.5 183.1L489.6 183.0L489.8 182.8L490.0 182.7L490.3 182.6L490.3 182.5L490.5 182.4L490.7 182.3L490.9 182.2L491.1 182.1L491.2 182.0L491.4 182.0L491.6 181.9L491.8 181.8L492.0 181.7L492.1 181.7L492.2 181.6L492.5 181.5L492.7 181.4L492.9 181.4L493.0 181.3L493.1 181.3L493.3 181.2L493.5 181.2L493.8 181.1L494.0 181.0L494.2 181.0L494.4 180.9L494.6 180.9L494.7 180.9L494.9 180.8L495.1 180.8L495.3 180.7L495.5 180.7L495.6 180.7L495.7 180.6L496.0 180.6L496.2 180.6L496.4 180.5L496.5 180.5L496.6 180.5L496.8 180.4L497.0 180.4L497.3 180.4L497.5 180.3L497.7 180.3L497.9 180.3L498.1 180.2L498.2 180.2L498.4 180.2L498.6 180.2L498.8 180.2L499.0 180.1L499.1 180.1L499.2 180.1L500.0 180.0L500.8 179.9L501.7 179.9L502.6 179.8L503.5 179.7L504.3 179.7L505.2 179.6L506.1 179.6L507.0 179.6L507.9 179.5L508.7 179.5L509.6 179.5L510.5 179.5L511.4 179.4L512.2 179.4L513.1 179.4L514.0 179.4L514.9 179.4L515.7 179.4L516.6 179.4L517.5 179.4L518.4 179.4L519.2 179.4L520.1 179.4L521.0 179.4L521.9 179.4L522.7 179.4L523.6 179.4L524.5 179.4L525.4 179.4L526.2 179.4L527.1 179.4L528.0 179.4L528.9 179.4L529.7 179.4L530.6 179.4L531.5 179.4L532.4 179.4L533.3 179.4L534.1 179.4L535.0 179.4L535.9 179.4L536.8 179.4L537.6 179.4L538.5 179.4L539.4 179.4L540.3 179.4L541.1 179.4L542.0 179.4L542.9 179.4L543.8 179.4L544.6 179.4L545.5 179.4L546.4 179.4L547.3 179.4L548.1 179.4L549.0 179.4L549.9 179.4L550.8 179.4L551.6 179.4L552.5 179.4L553.4 179.4L554.3 179.4L555.1 179.4L556.0 179.4L556.9 179.4L557.8 179.4L558.6 179.4L559.5 179.4L560.4 179.4L561.3 179.4L562.2 179.4L563.0 179.4L563.9 179.4L564.8 179.4L565.7 179.4L566.5 179.4L567.4 179.4L568.3 179.4L569.2 179.4L570.0 179.4L570.9 179.4L571.8 179.4L572.7 179.4L573.5 179.4L574.4 179.4L575.3 179.4L576.2 179.4L577.0 179.4L577.9 179.4L578.8 179.4L579.7 179.4L580.5 179.4L581.4 179.4L582.3 179.4L583.2 179.4L584.0 179.4L584.9 179.4L585.8 179.4L586.7 179.4L587.6 179.4L588.4 179.4L589.3 179.4L590.2 179.4L591.1 179.4L591.9 179.4L592.8 179.4L593.7 179.4L594.6 179.4L595.4 179.4L596.3 179.4L597.2 179.3L598.1 179.3L598.9 179.3L599.8 179.3L600.7 179.3L601.6 179.2L602.4 179.2L603.3 179.2L604.2 179.1L605.1 179.1L605.9 179.0L606.8 179.0L607.7 178.9L608.6 178.8L609.4 178.7L610.3 178.6L611.2 178.5L612.1 178.4L612.5 178.3L612.7 178.2L613.0 178.2L613.2 178.1L613.4 178.1L613.6 178.0L613.8 178.0L614.0 177.9L614.3 177.9L614.5 177.8L614.7 177.7L614.9 177.6L615.1 177.6L615.4 177.5L615.6 177.4L615.8 177.3L616.0 177.2L616.2 177.1L616.5 176.9L616.7 176.8L616.9 176.7L617.1 176.5L617.3 176.4L617.5 176.2L617.8 176.0L618.0 175.8L618.2 175.6L618.4 175.3L618.6 175.1L618.9 174.8L619.1 174.5L619.3 174.2L619.5 173.8L619.7 173.5L620.0 173.1L620.2 172.6L620.4 172.1L620.6 171.6L620.8 171.1L621.1 170.5L621.3 169.9L621.5 169.2L621.7 168.5L621.9 167.9L622.1 167.2L622.4 166.5L622.6 165.9L622.8 165.3L623.0 164.7L623.2 164.3L623.5 164.0L623.7 163.9L623.9 163.8L624.1 164.0L624.3 164.2L624.6 164.6L624.8 165.1L625.0 165.6L625.2 166.3L625.4 166.9L625.7 167.6L625.9 168.3L626.1 169.0L626.3 169.7L626.5 170.3L626.7 170.9L627.0 171.4L627.2 172.0L627.4 172.5L627.6 172.9L627.8 173.3L628.1 173.7L628.3 174.1L628.5 174.4L628.7 174.7L628.9 175.0L629.2 175.3L629.4 175.5L629.6 175.7L629.8 175.9L630.0 176.1L630.2 176.3L630.5 176.5L630.7 176.6L630.9 176.8L631.1 176.9L631.3 177.0L631.6 177.1L631.8 177.2L632.0 177.3L632.2 177.4L632.4 177.5L632.7 177.6L632.9 177.7L633.1 177.8L633.3 177.8L633.5 177.9L633.8 178.0L634.0 178.0L634.2 178.1L634.4 178.1L634.6 178.2L634.8 178.2L635.1 178.3L635.3 178.3L635.5 178.4L635.7 178.4L635.9 178.4L636.2 178.5L636.4 178.5L636.6 178.5L636.8 178.6L637.0 178.6L637.3 178.6L637.5 178.7L637.7 178.7L637.9 178.7L638.1 178.7L638.4 178.8L638.6 178.8L638.8 178.8L639.0 178.8L639.2 178.8L639.4 178.9L639.7 178.9L639.9 178.9L640.1 178.9L640.3 178.9L640.5 178.9L640.8 179.0L641.0 179.0L641.2 179.0L641.4 179.0L641.6 179.0L641.9 179.0L642.7 179.1L643.6 179.1L644.5 179.2L645.4 179.2L646.2 179.2L647.1 179.3L648.0 179.3L648.9 179.3L649.7 179.3L650.6 179.3L651.5 179.4L652.4 179.4L653.2 179.4L654.1 179.4L655.0 179.4L655.9 179.4L656.7 179.4L657.6 179.4L658.5 179.4L659.4 179.4L660.2 179.4L661.1 179.4L662.0 179.4L662.9 179.4L663.7 179.4L664.6 179.4L665.5 179.4L666.4 179.4L667.3 179.4L668.1 179.4L669.0 179.4L669.9 179.4L670.8 179.4L671.6 179.4L672.5 179.4L673.4 179.4L674.3 179.4L675.1 179.4L676.0 179.4L676.9 179.4L677.8 179.4L678.6 179.4L679.5 179.4L680.4 179.4L681.3 179.4L682.1 179.4" fill="none" stroke="#000" stroke-width="2.35" stroke-linejoin="round" stroke-linecap="round" clip-path="url(#cb)" />
<rect x="430.1" y="24.6" width="248.00" height="193.00" fill="none" stroke="#000" stroke-width="1.55"/>
<clipPath id="cc"><rect x="76.9" y="291.3" width="245.6" height="195.99999999999994"/></clipPath>
<line x1="98.53" y1="487.29999999999995" x2="98.53" y2="477.50" stroke="#000" stroke-width="1.25"/>
<line x1="170.80" y1="487.29999999999995" x2="170.80" y2="477.50" stroke="#000" stroke-width="1.25"/>
<line x1="243.07" y1="487.29999999999995" x2="243.07" y2="477.50" stroke="#000" stroke-width="1.25"/>
<line x1="315.33" y1="487.29999999999995" x2="315.33" y2="477.50" stroke="#000" stroke-width="1.25"/>
<line x1="134.67" y1="487.29999999999995" x2="134.67" y2="482.10" stroke="#000" stroke-width="1.25"/>
<line x1="206.93" y1="487.29999999999995" x2="206.93" y2="482.10" stroke="#000" stroke-width="1.25"/>
<line x1="279.20" y1="487.29999999999995" x2="279.20" y2="482.10" stroke="#000" stroke-width="1.25"/>
<line x1="76.9" y1="316.82" x2="86.70" y2="316.82" stroke="#000" stroke-width="1.15"/>
<line x1="76.9" y1="346.98" x2="86.70" y2="346.98" stroke="#000" stroke-width="1.15"/>
<line x1="76.9" y1="377.14" x2="86.70" y2="377.14" stroke="#000" stroke-width="1.15"/>
<line x1="76.9" y1="407.30" x2="86.70" y2="407.30" stroke="#000" stroke-width="1.15"/>
<line x1="76.9" y1="428.44" x2="86.70" y2="428.44" stroke="#000" stroke-width="1.15"/>
<line x1="76.9" y1="448.80" x2="86.70" y2="448.80" stroke="#000" stroke-width="1.15"/>
<line x1="76.9" y1="469.16" x2="86.70" y2="469.16" stroke="#000" stroke-width="1.15"/>
<path d="M73.2 407.1L74.1 407.1L75.0 407.1L75.8 407.1L76.7 407.1L77.6 407.1L78.4 407.1L79.3 407.1L80.2 407.1L81.0 407.1L81.9 407.1L82.8 407.1L83.6 407.1L84.5 407.1L85.4 407.1L86.2 407.1L87.1 407.1L88.0 407.1L88.8 407.1L89.7 407.1L90.6 407.1L91.5 407.1L92.3 407.1L93.2 407.1L94.1 407.1L94.9 407.1L95.8 407.1L96.7 407.1L97.5 407.1L98.4 407.1L99.3 407.1L100.1 407.0L101.0 407.0L101.9 407.0L102.7 407.0L103.6 407.0L104.5 407.0L105.3 406.9L106.2 406.9L107.1 406.8L107.9 406.8L108.8 406.7L109.4 406.7L109.6 406.7L109.7 406.7L109.8 406.7L110.0 406.6L110.2 406.6L110.5 406.6L110.7 406.6L110.9 406.6L111.1 406.5L111.3 406.5L111.4 406.5L111.5 406.5L111.8 406.5L112.0 406.4L112.2 406.4L112.3 406.4L112.4 406.4L112.6 406.4L112.8 406.3L113.1 406.3L113.3 406.3L113.5 406.2L113.7 406.2L113.9 406.2L114.0 406.2L114.1 406.1L114.4 406.1L114.6 406.1L114.8 406.0L114.9 406.0L115.0 406.0L115.2 406.0L115.4 405.9L115.7 405.9L115.9 405.8L116.1 405.8L116.3 405.8L116.5 405.7L116.6 405.7L116.7 405.7L117.0 405.6L117.2 405.6L117.4 405.5L117.5 405.5L117.6 405.5L117.8 405.4L118.0 405.3L118.3 405.3L118.5 405.2L118.7 405.1L118.9 405.1L119.1 405.0L119.2 405.0L119.3 404.9L119.6 404.8L119.8 404.8L120.0 404.7L120.1 404.6L120.2 404.6L120.4 404.5L120.6 404.4L120.9 404.3L121.1 404.2L121.3 404.1L121.5 403.9L121.7 403.8L121.8 403.8L121.9 403.7L122.2 403.5L122.4 403.4L122.6 403.2L122.7 403.2L122.8 403.1L123.0 402.9L123.2 402.7L123.5 402.5L123.7 402.3L123.9 402.1L124.1 401.9L124.3 401.6L124.4 401.5L124.5 401.3L124.8 401.1L125.0 400.8L125.2 400.4L125.3 400.3L125.4 400.1L125.6 399.7L125.8 399.3L126.1 398.9L126.1 398.7L126.3 398.4L126.5 397.9L126.7 397.4L126.9 396.8L127.0 396.6L127.2 396.1L127.4 395.5L127.6 394.7L127.8 393.9L127.9 393.6L128.0 393.0L128.2 392.1L128.5 391.1L128.7 390.0L128.7 389.6L128.9 388.8L129.1 387.5L129.3 386.1L129.5 384.6L129.6 384.1L129.8 383.1L130.0 381.4L130.2 379.7L130.4 377.8L130.5 377.2L130.6 376.0L130.8 374.1L131.1 372.3L131.3 370.6L131.3 370.0L131.5 369.0L131.7 367.6L131.9 366.5L132.1 365.7L132.2 365.5L132.4 365.2L132.6 365.2L132.8 365.5L133.0 366.2L133.1 366.5L133.2 367.2L133.4 368.5L133.7 370.0L133.9 371.7L133.9 372.3L134.1 373.5L134.3 375.4L134.5 377.2L134.7 379.1L134.8 379.7L135.0 380.8L135.2 382.5L135.4 384.1L135.6 385.6L135.7 386.1L135.8 387.0L136.0 388.4L136.3 389.6L136.5 390.7L136.5 391.1L136.7 391.8L136.9 392.7L137.1 393.6L137.3 394.5L137.4 394.7L137.6 395.2L137.8 395.9L138.0 396.6L138.2 397.2L138.3 397.4L138.4 397.7L138.6 398.2L138.9 398.7L139.1 399.2L139.1 399.3L139.3 399.6L139.5 400.0L139.7 400.3L139.9 400.7L140.0 400.8L140.2 401.0L140.4 401.3L140.6 401.5L140.8 401.8L140.9 401.9L141.0 402.0L141.2 402.2L141.5 402.5L141.7 402.7L141.9 402.8L142.1 403.0L142.3 403.2L142.5 403.3L142.6 403.4L142.8 403.5L143.0 403.6L143.2 403.8L143.4 403.9L143.5 403.9L143.6 404.0L143.8 404.1L144.1 404.3L144.3 404.4L144.4 404.4L144.5 404.5L144.7 404.6L144.9 404.6L145.1 404.7L145.2 404.8L145.4 404.8L146.1 405.1L147.0 405.3L147.8 405.6L148.7 405.8L149.6 405.9L150.4 406.1L151.3 406.2L152.2 406.3L153.0 406.4L153.9 406.5L154.8 406.6L155.6 406.7L156.5 406.8L157.4 406.8L158.2 406.9L159.1 406.9L160.0 406.9L160.8 407.0L161.7 407.0L162.6 407.0L163.4 407.0L164.3 407.0L165.2 407.0L166.0 407.1L166.9 407.1L167.8 407.1L168.6 407.1L169.5 407.1L170.4 407.1L171.2 407.1L172.1 407.1L173.0 407.1L173.8 407.1L174.7 407.1L175.6 407.1L176.4 407.1L177.3 407.1L178.2 407.1L179.0 407.1L179.9 407.1L180.8 407.1L181.6 407.1L182.5 407.1L183.4 407.1L184.2 407.1L185.1 407.1L186.0 407.1L186.8 407.1L187.7 407.1L188.6 407.1L189.4 407.1L190.3 407.1L191.2 407.1L192.0 407.1L192.9 407.1L193.8 407.1L194.6 407.1L195.5 407.1L196.4 407.1L197.2 407.1L198.1 407.1L199.0 407.1L199.9 407.1L200.7 407.1L201.6 407.1L202.5 407.1L203.3 407.1L204.2 407.1L205.1 407.1L205.9 407.1L206.8 407.1L207.7 407.1L208.5 407.1L209.4 407.1L210.3 407.1L211.1 407.1L212.0 407.1L212.9 407.1L213.7 407.1L214.6 407.1L215.5 407.1L216.3 407.1L217.2 407.1L218.1 407.1L218.9 407.1L219.8 407.1L220.7 407.1L221.5 407.1L222.4 407.1L223.3 407.1L224.1 407.1L225.0 407.1L225.9 407.1L226.7 407.1L227.6 407.1L228.5 407.1L229.3 407.1L230.2 407.1L231.1 407.1L231.9 407.1L232.8 407.1L233.7 407.1L234.5 407.1L235.4 407.1L236.3 407.1L237.1 407.1L238.0 407.1L238.9 407.1L239.7 407.1L240.6 407.1L241.5 407.1L242.3 407.1L243.2 407.1L244.1 407.1L244.9 407.1L245.8 407.1L246.7 407.1L247.5 407.1L248.4 407.1L249.3 407.1L250.1 407.1L251.0 407.1L251.9 407.1L252.8 407.1L253.6 407.1L254.5 407.1L255.4 407.1L256.2 407.1L257.1 407.1L257.5 407.1L257.7 407.1L258.0 407.1L258.2 407.1L258.4 407.1L258.6 407.1L258.8 407.1L259.0 407.1L259.3 407.1L259.5 407.1L259.7 407.1L259.9 407.1L260.1 407.1L260.3 407.1L260.6 407.1L260.8 407.1L261.0 407.1L261.2 407.1L261.4 407.1L261.6 407.1L261.9 407.1L262.1 407.1L262.3 407.1L262.5 407.1L262.7 407.1L262.9 407.1L263.2 407.1L263.4 407.1L263.6 407.1L263.8 407.1L264.0 407.1L264.2 407.1L264.5 407.1L264.7 407.1L264.9 407.1L265.1 407.1L265.3 407.1L265.5 407.1L265.8 407.1L266.0 407.1L266.2 407.1L266.4 407.1L266.6 407.1L266.8 407.1L267.1 407.1L267.3 407.1L267.5 407.1L267.7 407.1L267.9 407.1L268.1 407.1L268.4 407.1L268.6 407.1L268.8 407.1L269.0 407.1L269.2 407.1L269.4 407.1L269.7 407.1L269.9 407.1L270.1 407.1L270.3 407.1L270.5 407.1L270.7 407.1L271.0 407.1L271.2 407.1L271.4 407.1L271.6 407.1L271.8 407.1L272.0 407.1L272.3 407.1L272.5 407.1L272.7 407.1L272.9 407.1L273.1 407.1L273.3 407.1L273.6 407.1L273.8 407.1L274.0 407.1L274.2 407.1L274.4 407.1L274.6 407.1L274.9 407.1L275.1 407.1L275.3 407.1L275.5 407.1L275.7 407.1L275.9 407.1L276.2 407.1L276.4 407.1L276.6 407.1L276.8 407.1L277.0 407.1L277.2 407.1L277.5 407.1L277.7 407.1L277.9 407.1L278.1 407.1L278.3 407.1L278.6 407.1L278.8 407.1L279.0 407.1L279.2 407.1L279.4 407.1L279.6 407.1L279.9 407.1L280.1 407.1L280.3 407.1L280.5 407.1L280.7 407.1L280.9 407.1L281.2 407.1L281.4 407.1L281.6 407.1L281.8 407.1L282.0 407.1L282.2 407.1L282.5 407.1L282.7 407.1L282.9 407.1L283.1 407.1L283.3 407.1L283.5 407.1L283.8 407.1L284.0 407.1L284.2 407.1L284.4 407.1L284.6 407.1L284.8 407.1L285.1 407.1L285.3 407.1L285.5 407.1L285.7 407.1L285.9 407.1L286.1 407.1L286.4 407.1L286.6 407.1L287.4 407.1L288.3 407.1L289.2 407.1L290.0 407.1L290.9 407.1L291.8 407.1L292.6 407.1L293.5 407.1L294.4 407.1L295.2 407.1L296.1 407.1L297.0 407.1L297.8 407.1L298.7 407.1L299.6 407.1L300.4 407.1L301.3 407.1L302.2 407.1L303.0 407.1L303.9 407.1L304.8 407.1L305.7 407.1L306.5 407.1L307.4 407.1L308.3 407.1L309.1 407.1L310.0 407.1L310.9 407.1L311.7 407.1L312.6 407.1L313.5 407.1L314.3 407.1L315.2 407.1L316.1 407.1L316.9 407.1L317.8 407.1L318.7 407.1L319.5 407.1L320.4 407.1L321.3 407.1L322.1 407.1L323.0 407.1L323.9 407.1L324.7 407.1L325.6 407.1L326.5 407.1" fill="none" stroke="#ff1a08" stroke-width="2.7" stroke-linejoin="round" stroke-linecap="round" clip-path="url(#cc)" />
<path d="M73.2 407.5L74.1 407.5L75.0 407.5L75.8 407.5L76.7 407.5L77.6 407.5L78.4 407.5L79.3 407.5L80.2 407.5L81.0 407.5L81.9 407.5L82.8 407.5L83.6 407.5L84.5 407.5L85.4 407.5L86.2 407.5L87.1 407.5L88.0 407.5L88.8 407.5L89.7 407.5L90.6 407.5L91.5 407.5L92.3 407.5L93.2 407.5L94.1 407.5L94.9 407.5L95.8 407.5L96.7 407.5L97.5 407.5L98.4 407.5L99.3 407.5L100.1 407.5L101.0 407.5L101.9 407.5L102.7 407.5L103.6 407.5L104.5 407.5L105.3 407.5L106.2 407.5L107.1 407.5L107.9 407.4L108.8 407.4L109.4 407.4L109.6 407.4L109.7 407.4L109.8 407.4L110.0 407.4L110.2 407.4L110.5 407.4L110.7 407.4L110.9 407.4L111.1 407.4L111.3 407.4L111.4 407.4L111.5 407.4L111.8 407.3L112.0 407.3L112.2 407.3L112.3 407.3L112.4 407.3L112.6 407.3L112.8 407.3L113.1 407.3L113.3 407.3L113.5 407.3L113.7 407.3L113.9 407.3L114.0 407.3L114.1 407.3L114.4 407.2L114.6 407.2L114.8 407.2L114.9 407.2L115.0 407.2L115.2 407.2L115.4 407.2L115.7 407.2L115.9 407.2L116.1 407.2L116.3 407.1L116.5 407.1L116.6 407.1L116.7 407.1L117.0 407.1L117.2 407.1L117.4 407.1L117.5 407.1L117.6 407.0L117.8 407.0L118.0 407.0L118.3 407.0L118.5 407.0L118.7 407.0L118.9 406.9L119.1 406.9L119.2 406.9L119.3 406.9L119.6 406.9L119.8 406.8L120.0 406.8L120.1 406.8L120.2 406.8L120.4 406.8L120.6 406.7L120.9 406.7L121.1 406.7L121.3 406.6L121.5 406.6L121.7 406.6L121.8 406.6L121.9 406.5L122.2 406.5L122.4 406.4L122.6 406.4L122.7 406.4L122.8 406.3L123.0 406.3L123.2 406.2L123.5 406.2L123.7 406.1L123.9 406.1L124.1 406.0L124.3 405.9L124.4 405.9L124.5 405.8L124.8 405.8L125.0 405.7L125.2 405.6L125.3 405.5L125.4 405.5L125.6 405.4L125.8 405.2L126.1 405.1L126.3 405.0L126.5 404.8L126.7 404.7L126.9 404.5L127.0 404.4L127.2 404.3L127.4 404.1L127.6 403.9L127.8 403.6L127.9 403.6L128.0 403.4L128.2 403.1L128.5 402.8L128.7 402.5L128.7 402.4L128.9 402.1L129.1 401.8L129.3 401.3L129.5 400.9L129.6 400.8L129.8 400.4L130.0 400.0L130.2 399.4L130.4 398.9L130.5 398.7L130.6 398.4L130.8 397.8L131.1 397.3L131.3 396.8L131.3 396.6L131.5 396.3L131.7 395.9L131.9 395.6L132.1 395.3L132.2 395.3L132.4 395.2L132.6 395.2L132.8 395.3L133.0 395.5L133.1 395.6L133.2 395.8L133.4 396.2L133.7 396.6L133.9 397.1L133.9 397.3L134.1 397.6L134.3 398.2L134.5 398.7L134.7 399.3L134.8 399.4L135.0 399.8L135.2 400.3L135.4 400.8L135.6 401.2L135.7 401.3L135.8 401.6L136.0 402.0L136.3 402.4L136.5 402.7L136.5 402.8L136.7 403.0L136.9 403.3L137.1 403.6L137.3 403.8L137.4 403.9L137.6 404.0L137.8 404.2L138.0 404.4L138.2 404.6L138.3 404.7L138.4 404.8L138.6 404.9L138.9 405.1L139.1 405.2L139.3 405.3L139.5 405.4L139.7 405.5L139.9 405.6L140.0 405.7L140.2 405.7L140.4 405.8L140.6 405.9L140.8 406.0L140.9 406.0L141.0 406.0L141.2 406.1L141.5 406.2L141.7 406.2L141.9 406.3L142.1 406.3L142.3 406.4L142.5 406.4L142.6 406.4L142.8 406.5L143.0 406.5L143.2 406.6L143.4 406.6L143.5 406.6L143.6 406.6L143.8 406.7L144.1 406.7L144.3 406.7L144.4 406.7L144.5 406.8L144.7 406.8L144.9 406.8L145.1 406.8L145.2 406.8L145.4 406.9L146.1 406.9L147.0 407.0L147.8 407.1L148.7 407.1L149.6 407.2L150.4 407.2L151.3 407.3L152.2 407.3L153.0 407.3L153.9 407.4L154.8 407.4L155.6 407.4L156.5 407.4L157.4 407.4L158.2 407.5L159.1 407.5L160.0 407.5L160.8 407.5L161.7 407.5L162.6 407.5L163.4 407.5L164.3 407.5L165.2 407.5L166.0 407.5L166.9 407.5L167.8 407.5L168.6 407.5L169.5 407.5L170.4 407.5L171.2 407.5L172.1 407.5L173.0 407.5L173.8 407.5L174.7 407.5L175.6 407.5L176.4 407.5L177.3 407.5L178.2 407.5L179.0 407.5L179.9 407.5L180.8 407.5L181.6 407.5L182.5 407.5L183.4 407.5L184.2 407.5L185.1 407.5L186.0 407.5L186.8 407.5L187.7 407.5L188.6 407.5L189.4 407.5L190.3 407.5L191.2 407.5L192.0 407.5L192.9 407.5L193.8 407.5L194.6 407.5L195.5 407.5L196.4 407.5L197.2 407.5L198.1 407.5L199.0 407.5L199.9 407.5L200.7 407.5L201.6 407.5L202.5 407.5L203.3 407.5L204.2 407.5L205.1 407.5L205.9 407.5L206.8 407.5L207.7 407.5L208.5 407.5L209.4 407.5L210.3 407.5L211.1 407.5L212.0 407.5L212.9 407.5L213.7 407.5L214.6 407.5L215.5 407.5L216.3 407.5L217.2 407.5L218.1 407.5L218.9 407.5L219.8 407.5L220.7 407.5L221.5 407.5L222.4 407.5L223.3 407.5L224.1 407.5L225.0 407.5L225.9 407.5L226.7 407.5L227.6 407.5L228.5 407.5L229.3 407.5L230.2 407.5L231.1 407.5L231.9 407.5L232.8 407.5L233.7 407.5L234.5 407.5L235.4 407.5L236.3 407.5L237.1 407.5L238.0 407.5L238.9 407.5L239.7 407.5L240.6 407.5L241.5 407.5L242.3 407.5L243.2 407.5L244.1 407.5L244.9 407.5L245.8 407.4L246.7 407.4L247.5 407.4L248.4 407.4L249.3 407.3L250.1 407.3L251.0 407.3L251.9 407.2L252.8 407.2L253.6 407.1L254.5 407.0L255.4 407.0L256.2 406.9L257.1 406.8L257.5 406.7L257.7 406.7L258.0 406.7L258.2 406.6L258.4 406.6L258.6 406.6L258.8 406.5L259.0 406.5L259.3 406.5L259.5 406.4L259.7 406.4L259.9 406.3L260.1 406.3L260.3 406.3L260.6 406.2L260.8 406.2L261.0 406.1L261.2 406.0L261.4 406.0L261.6 405.9L261.9 405.9L262.1 405.8L262.3 405.7L262.5 405.6L262.7 405.6L262.9 405.5L263.2 405.4L263.4 405.3L263.6 405.2L263.8 405.1L264.0 405.0L264.2 404.8L264.5 404.7L264.7 404.6L264.9 404.4L265.1 404.2L265.3 404.1L265.5 403.9L265.8 403.7L266.0 403.5L266.2 403.2L266.4 403.0L266.6 402.7L266.8 402.4L267.1 402.1L267.3 401.8L267.5 401.4L267.7 401.0L267.9 400.6L268.1 400.1L268.4 399.6L268.6 399.0L268.8 398.4L269.0 397.8L269.2 397.1L269.4 396.4L269.7 395.6L269.9 394.8L270.1 393.9L270.3 393.0L270.5 392.1L270.7 391.2L271.0 390.4L271.2 389.5L271.4 388.8L271.6 388.2L271.8 387.7L272.0 387.3L272.3 387.2L272.5 387.2L272.7 387.4L272.9 387.8L273.1 388.4L273.3 389.0L273.6 389.8L273.8 390.7L274.0 391.5L274.2 392.4L274.4 393.3L274.6 394.2L274.9 395.1L275.1 395.9L275.3 396.6L275.5 397.3L275.7 398.0L275.9 398.6L276.2 399.2L276.4 399.8L276.6 400.3L276.8 400.7L277.0 401.1L277.2 401.5L277.5 401.9L277.7 402.2L277.9 402.5L278.1 402.8L278.3 403.1L278.6 403.3L278.8 403.5L279.0 403.8L279.2 403.9L279.4 404.1L279.6 404.3L279.9 404.5L280.1 404.6L280.3 404.7L280.5 404.9L280.7 405.0L280.9 405.1L281.2 405.2L281.4 405.3L281.6 405.4L281.8 405.5L282.0 405.6L282.2 405.7L282.5 405.7L282.7 405.8L282.9 405.9L283.1 405.9L283.3 406.0L283.5 406.1L283.8 406.1L284.0 406.2L284.2 406.2L284.4 406.3L284.6 406.3L284.8 406.4L285.1 406.4L285.3 406.4L285.5 406.5L285.7 406.5L285.9 406.6L286.1 406.6L286.4 406.6L286.6 406.7L287.4 406.8L288.3 406.9L289.2 407.0L290.0 407.0L290.9 407.1L291.8 407.2L292.6 407.2L293.5 407.3L294.4 407.3L295.2 407.3L296.1 407.4L297.0 407.4L297.8 407.4L298.7 407.4L299.6 407.5L300.4 407.5L301.3 407.5L302.2 407.5L303.0 407.5L303.9 407.5L304.8 407.5L305.7 407.5L306.5 407.5L307.4 407.5L308.3 407.5L309.1 407.5L310.0 407.5L310.9 407.5L311.7 407.5L312.6 407.5L313.5 407.5L314.3 407.5L315.2 407.5L316.1 407.5L316.9 407.5L317.8 407.5L318.7 407.5L319.5 407.5L320.4 407.5L321.3 407.5L322.1 407.5L323.0 407.5L323.9 407.5L324.7 407.5L325.6 407.5L326.5 407.5" fill="none" stroke="#0018c8" stroke-width="2.7" stroke-linejoin="round" stroke-linecap="round" clip-path="url(#cc)" />
<path d="M73.2 449.1L74.1 449.1L75.0 449.1L75.8 449.1L76.7 449.1L77.6 449.1L78.4 449.1L79.3 449.1L80.2 449.1L81.0 449.1L81.9 449.1L82.8 449.1L83.6 449.1L84.5 449.1L85.4 449.1L86.2 449.1L87.1 449.1L88.0 449.1L88.8 449.1L89.7 449.1L90.6 449.1L91.5 449.1L92.3 449.1L93.2 449.1L94.1 449.1L94.9 449.1L95.8 449.1L96.7 449.1L97.5 449.1L98.4 449.1L99.3 449.1L100.1 449.1L101.0 449.1L101.9 449.1L102.7 449.1L103.6 449.1L104.5 449.2L105.3 449.2L106.2 449.2L107.1 449.2L107.9 449.2L108.8 449.3L109.4 449.3L109.6 449.3L109.7 449.3L109.8 449.3L110.0 449.3L110.2 449.3L110.5 449.3L110.7 449.3L110.9 449.4L111.1 449.4L111.3 449.4L111.4 449.4L111.5 449.4L111.8 449.4L112.0 449.4L112.2 449.4L112.3 449.4L112.4 449.4L112.6 449.4L112.8 449.5L113.1 449.5L113.3 449.5L113.5 449.5L113.7 449.5L113.9 449.5L114.0 449.5L114.1 449.5L114.4 449.6L114.6 449.6L114.8 449.6L114.9 449.6L115.0 449.6L115.2 449.6L115.4 449.7L115.7 449.7L115.9 449.7L116.1 449.7L116.3 449.7L116.5 449.8L116.6 449.8L116.7 449.8L117.0 449.8L117.2 449.8L117.4 449.9L117.5 449.9L117.6 449.9L117.8 449.9L118.0 449.9L118.3 450.0L118.5 450.0L118.7 450.0L118.9 450.1L119.1 450.1L119.2 450.1L119.3 450.1L119.6 450.2L119.8 450.2L120.0 450.2L120.1 450.3L120.2 450.3L120.4 450.3L120.6 450.4L120.9 450.4L121.1 450.5L121.3 450.5L121.5 450.6L121.7 450.7L121.8 450.7L121.9 450.7L122.2 450.8L122.4 450.9L122.6 450.9L122.7 451.0L122.8 451.0L123.0 451.1L123.2 451.2L123.5 451.3L123.7 451.4L123.9 451.5L124.1 451.6L124.3 451.7L124.4 451.7L124.5 451.8L124.8 452.0L125.0 452.1L125.2 452.3L125.3 452.3L125.4 452.4L125.6 452.6L125.8 452.8L126.1 453.0L126.1 453.1L126.3 453.2L126.5 453.5L126.7 453.7L126.9 454.0L127.0 454.1L127.2 454.3L127.4 454.6L127.6 455.0L127.8 455.4L127.9 455.5L128.0 455.8L128.2 456.2L128.5 456.7L128.7 457.2L128.7 457.4L128.9 457.8L129.1 458.4L129.3 459.1L129.5 459.8L129.6 460.0L129.8 460.5L130.0 461.3L130.2 462.2L130.4 463.0L130.5 463.3L130.6 463.9L130.8 464.8L131.1 465.6L131.3 466.5L131.3 466.7L131.5 467.2L131.7 467.9L131.9 468.4L132.1 468.8L132.2 468.9L132.4 469.0L132.6 469.0L132.8 468.9L133.0 468.6L133.1 468.4L133.2 468.1L133.4 467.5L133.7 466.7L133.9 465.9L133.9 465.6L134.1 465.1L134.3 464.2L134.5 463.3L134.7 462.4L134.8 462.2L135.0 461.6L135.2 460.8L135.4 460.0L135.6 459.3L135.7 459.1L135.8 458.6L136.0 458.0L136.3 457.4L136.5 456.9L136.5 456.7L136.7 456.4L136.9 455.9L137.1 455.5L137.3 455.1L137.4 455.0L137.6 454.7L137.8 454.4L138.0 454.1L138.2 453.8L138.3 453.7L138.4 453.6L138.6 453.3L138.9 453.1L139.1 452.9L139.1 452.8L139.3 452.7L139.5 452.5L139.7 452.3L139.9 452.2L140.0 452.1L140.2 452.0L140.4 451.9L140.6 451.7L140.8 451.6L140.9 451.6L141.0 451.5L141.2 451.4L141.5 451.3L141.7 451.2L141.9 451.1L142.1 451.0L142.3 451.0L142.5 450.9L142.6 450.9L142.8 450.8L143.0 450.7L143.2 450.7L143.4 450.6L143.5 450.6L143.6 450.6L143.8 450.5L144.1 450.4L144.3 450.4L144.4 450.4L144.5 450.4L144.7 450.3L144.9 450.3L145.1 450.2L145.2 450.2L145.4 450.2L146.1 450.1L147.0 449.9L147.8 449.8L148.7 449.7L149.6 449.7L150.4 449.6L151.3 449.5L152.2 449.5L153.0 449.4L153.9 449.4L154.8 449.3L155.6 449.3L156.5 449.3L157.4 449.2L158.2 449.2L159.1 449.2L160.0 449.2L160.8 449.2L161.7 449.1L162.6 449.1L163.4 449.1L164.3 449.1L165.2 449.1L166.0 449.1L166.9 449.1L167.8 449.1L168.6 449.1L169.5 449.1L170.4 449.1L171.2 449.1L172.1 449.1L173.0 449.1L173.8 449.1L174.7 449.1L175.6 449.1L176.4 449.1L177.3 449.1L178.2 449.1L179.0 449.1L179.9 449.1L180.8 449.1L181.6 449.1L182.5 449.1L183.4 449.1L184.2 449.1L185.1 449.1L186.0 449.1L186.8 449.1L187.7 449.1L188.6 449.1L189.4 449.1L190.3 449.1L191.2 449.1L192.0 449.1L192.9 449.1L193.8 449.1L194.6 449.1L195.5 449.1L196.4 449.1L197.2 449.1L198.1 449.1L199.0 449.1L199.9 449.1L200.7 449.1L201.6 449.1L202.5 449.1L203.3 449.1L204.2 449.1L205.1 449.1L205.9 449.1L206.8 449.1L207.7 449.1L208.5 449.1L209.4 449.1L210.3 449.1L211.1 449.1L212.0 449.1L212.9 449.1L213.7 449.1L214.6 449.1L215.5 449.1L216.3 449.1L217.2 449.1L218.1 449.1L218.9 449.1L219.8 449.1L220.7 449.1L221.5 449.1L222.4 449.1L223.3 449.1L224.1 449.1L225.0 449.1L225.9 449.1L226.7 449.1L227.6 449.1L228.5 449.1L229.3 449.1L230.2 449.1L231.1 449.1L231.9 449.1L232.8 449.1L233.7 449.1L234.5 449.1L235.4 449.1L236.3 449.1L237.1 449.1L238.0 449.1L238.9 449.1L239.7 449.1L240.6 449.1L241.5 449.1L242.3 449.1L243.2 449.1L244.1 449.1L244.9 449.1L245.8 449.0L246.7 449.0L247.5 449.0L248.4 449.0L249.3 449.0L250.1 449.0L251.0 448.9L251.9 448.9L252.8 448.9L253.6 448.8L254.5 448.8L255.4 448.7L256.2 448.7L257.1 448.6L257.5 448.6L257.7 448.5L258.0 448.5L258.2 448.5L258.4 448.5L258.6 448.5L258.8 448.4L259.0 448.4L259.3 448.4L259.5 448.4L259.7 448.3L259.9 448.3L260.1 448.3L260.3 448.2L260.6 448.2L260.8 448.2L261.0 448.1L261.2 448.1L261.4 448.1L261.6 448.0L261.9 448.0L262.1 447.9L262.3 447.9L262.5 447.8L262.7 447.8L262.9 447.7L263.2 447.7L263.4 447.6L263.6 447.5L263.8 447.4L264.0 447.4L264.2 447.3L264.5 447.2L264.7 447.1L264.9 447.0L265.1 446.9L265.3 446.8L265.5 446.6L265.8 446.5L266.0 446.4L266.2 446.2L266.4 446.0L266.6 445.9L266.8 445.7L267.1 445.5L267.3 445.2L267.5 445.0L267.7 444.7L267.9 444.4L268.1 444.1L268.4 443.7L268.6 443.4L268.8 443.0L269.0 442.5L269.2 442.1L269.4 441.6L269.7 441.1L269.9 440.5L270.1 439.9L270.3 439.3L270.5 438.7L270.7 438.1L271.0 437.5L271.2 437.0L271.4 436.5L271.6 436.0L271.8 435.7L272.0 435.5L272.3 435.4L272.5 435.4L272.7 435.5L272.9 435.8L273.1 436.2L273.3 436.6L273.6 437.1L273.8 437.7L274.0 438.3L274.2 438.9L274.4 439.5L274.6 440.1L274.9 440.7L275.1 441.2L275.3 441.8L275.5 442.2L275.7 442.7L275.9 443.1L276.2 443.5L276.4 443.9L276.6 444.2L276.8 444.5L277.0 444.8L277.2 445.1L277.5 445.3L277.7 445.5L277.9 445.7L278.1 445.9L278.3 446.1L278.6 446.3L278.8 446.4L279.0 446.6L279.2 446.7L279.4 446.8L279.6 446.9L279.9 447.0L280.1 447.1L280.3 447.2L280.5 447.3L280.7 447.4L280.9 447.5L281.2 447.5L281.4 447.6L281.6 447.7L281.8 447.7L282.0 447.8L282.2 447.9L282.5 447.9L282.7 447.9L282.9 448.0L283.1 448.0L283.3 448.1L283.5 448.1L283.8 448.2L284.0 448.2L284.2 448.2L284.4 448.3L284.6 448.3L284.8 448.3L285.1 448.3L285.3 448.4L285.5 448.4L285.7 448.4L285.9 448.4L286.1 448.5L286.4 448.5L286.6 448.5L287.4 448.6L288.3 448.7L289.2 448.7L290.0 448.8L290.9 448.8L291.8 448.9L292.6 448.9L293.5 448.9L294.4 448.9L295.2 449.0L296.1 449.0L297.0 449.0L297.8 449.0L298.7 449.0L299.6 449.1L300.4 449.1L301.3 449.1L302.2 449.1L303.0 449.1L303.9 449.1L304.8 449.1L305.7 449.1L306.5 449.1L307.4 449.1L308.3 449.1L309.1 449.1L310.0 449.1L310.9 449.1L311.7 449.1L312.6 449.1L313.5 449.1L314.3 449.1L315.2 449.1L316.1 449.1L316.9 449.1L317.8 449.1L318.7 449.1L319.5 449.1L320.4 449.1L321.3 449.1L322.1 449.1L323.0 449.1L323.9 449.1L324.7 449.1L325.6 449.1L326.5 449.1" fill="none" stroke="#000" stroke-width="2.35" stroke-linejoin="round" stroke-linecap="round" clip-path="url(#cc)" />
<rect x="76.9" y="294.3" width="245.60" height="193.00" fill="none" stroke="#000" stroke-width="1.55"/>
<clipPath id="cd"><rect x="430.1" y="291.2" width="248.0" height="196.10000000000002"/></clipPath>
<path d="M426.4 391.3L427.3 391.3L428.2 391.3L429.0 391.3L429.9 391.3L430.8 391.4L431.7 391.4L432.5 391.4L433.4 391.4L434.3 391.4L435.2 391.4L436.0 391.5L436.9 391.5L437.8 391.5L438.7 391.5L439.5 391.6L440.4 391.6L441.3 391.6L442.2 391.7L443.0 391.7L443.9 391.7L444.8 391.8L445.7 391.8L446.5 391.9L447.4 391.9L448.3 392.0L449.2 392.0L450.0 392.1L450.9 392.2L451.8 392.2L452.7 392.3L453.5 392.4L454.4 392.5L455.3 392.6L456.2 392.7L457.1 392.8L457.9 393.0L458.8 393.1L459.7 393.3L460.6 393.5L461.4 393.7L462.3 394.0L462.9 394.2L463.1 394.3L463.2 394.3L463.3 394.3L463.5 394.4L463.8 394.5L464.0 394.6L464.1 394.6L464.2 394.7L464.4 394.8L464.6 394.8L464.9 394.9L464.9 395.0L465.1 395.0L465.3 395.2L465.5 395.3L465.7 395.4L465.8 395.4L466.0 395.5L466.2 395.6L466.4 395.7L466.6 395.9L466.7 395.9L466.8 396.0L467.1 396.2L467.3 396.3L467.5 396.5L467.6 396.5L467.7 396.6L467.9 396.8L468.1 397.0L468.4 397.1L468.4 397.2L468.6 397.3L468.8 397.5L469.0 397.8L469.2 398.0L469.3 398.1L469.5 398.2L469.7 398.4L469.9 398.7L470.1 399.0L470.2 399.1L470.3 399.3L470.6 399.5L470.8 399.9L471.0 400.2L471.1 400.3L471.2 400.5L471.4 400.9L471.7 401.3L471.9 401.7L471.9 401.8L472.1 402.1L472.3 402.6L472.5 403.1L472.7 403.6L472.8 403.8L473.0 404.1L473.2 404.7L473.4 405.3L473.6 406.0L473.7 406.2L473.8 406.7L474.1 407.5L474.3 408.3L474.5 409.2L474.6 409.5L474.7 410.2L474.9 411.2L475.2 412.3L475.4 413.5L475.4 413.9L475.6 414.8L475.8 416.3L476.0 417.8L476.2 419.5L476.3 420.1L476.5 421.4L476.7 423.4L476.9 425.7L477.1 428.1L477.2 429.0L477.3 430.8L477.6 433.8L477.8 437.0L478.0 440.5L478.1 441.7L478.2 444.3L478.4 448.3L478.7 452.6L478.9 457.0L478.9 458.4L479.1 461.4L479.3 465.7L479.5 469.7L479.8 473.2L479.8 474.2L480.0 475.9L480.2 477.7L480.4 478.4L480.6 478.0L480.7 477.7L480.8 476.7L481.1 474.4L481.3 471.5L481.5 468.2L481.6 467.0L481.7 464.6L481.9 461.0L482.2 457.5L482.4 454.2L482.5 453.2L482.6 451.2L482.8 448.5L483.0 446.1L483.3 444.0L483.3 443.4L483.5 442.3L483.7 440.8L483.9 439.6L484.1 438.6L484.2 438.4L484.3 437.9L484.6 437.3L484.8 436.9L485.0 436.6L485.1 436.5L485.2 436.3L485.4 436.1L485.7 435.8L485.9 435.4L486.0 435.3L486.1 435.0L486.3 434.4L486.5 433.7L486.8 432.8L486.8 432.5L487.0 431.7L487.2 430.5L487.4 429.2L487.6 427.8L487.7 427.3L487.9 426.3L488.1 424.8L488.3 423.2L488.5 421.6L488.6 421.1L488.7 420.1L488.9 418.6L489.2 417.2L489.4 415.8L489.5 415.4L489.6 414.5L489.8 413.3L490.0 412.1L490.3 411.0L490.3 410.6L490.5 409.9L490.7 409.0L490.9 408.1L491.1 407.2L491.2 407.0L491.4 406.4L491.6 405.7L491.8 405.0L492.0 404.4L492.1 404.1L492.2 403.7L492.5 403.2L492.7 402.6L492.9 402.1L493.0 402.0L493.1 401.7L493.3 401.2L493.5 400.8L493.8 400.4L493.8 400.3L494.0 400.1L494.2 399.7L494.4 399.4L494.6 399.1L494.7 399.0L494.9 398.8L495.1 398.5L495.3 398.2L495.5 398.0L495.6 397.9L495.7 397.7L496.0 397.5L496.2 397.3L496.4 397.1L496.5 397.0L496.6 396.9L496.8 396.7L497.0 396.5L497.3 396.4L497.3 396.3L497.5 396.2L497.7 396.1L497.9 395.9L498.1 395.8L498.2 395.7L498.4 395.6L498.6 395.5L498.8 395.4L499.0 395.3L499.1 395.2L499.2 395.1L500.0 394.8L500.8 394.4L501.7 394.1L502.6 393.8L503.5 393.6L504.3 393.4L505.2 393.2L506.1 393.0L507.0 392.9L507.9 392.7L508.7 392.6L509.6 392.5L510.5 392.4L511.4 392.3L512.2 392.2L513.1 392.1L514.0 392.1L514.9 392.0L515.7 391.9L516.6 391.9L517.5 391.8L518.4 391.8L519.2 391.7L520.1 391.7L521.0 391.7L521.9 391.6L522.7 391.6L523.6 391.5L524.5 391.5L525.4 391.5L526.2 391.5L527.1 391.4L528.0 391.4L528.9 391.4L529.7 391.4L530.6 391.3L531.5 391.3L532.4 391.3L533.3 391.3L534.1 391.3L535.0 391.3L535.9 391.2L536.8 391.2L537.6 391.2L538.5 391.2L539.4 391.2L540.3 391.2L541.1 391.2L542.0 391.1L542.9 391.1L543.8 391.1L544.6 391.1L545.5 391.1L546.4 391.1L547.3 391.1L548.1 391.1L549.0 391.0L549.9 391.0L550.8 391.0L551.6 391.0L552.5 391.0L553.4 391.0L554.3 391.0L555.1 391.0L556.0 391.0L556.9 391.0L557.8 391.0L558.6 390.9L559.5 390.9L560.4 390.9L561.3 390.9L562.2 390.9L563.0 390.9L563.9 390.9L564.8 390.9L565.7 390.9L566.5 390.9L567.4 390.8L568.3 390.8L569.2 390.8L570.0 390.8L570.9 390.8L571.8 390.8L572.7 390.8L573.5 390.8L574.4 390.8L575.3 390.7L576.2 390.7L577.0 390.7L577.9 390.7L578.8 390.7L579.7 390.7L580.5 390.7L581.4 390.6L582.3 390.6L583.2 390.6L584.0 390.6L584.9 390.6L585.8 390.5L586.7 390.5L587.6 390.5L588.4 390.5L589.3 390.4L590.2 390.4L591.1 390.4L591.9 390.3L592.8 390.3L593.7 390.3L594.6 390.2L595.4 390.2L596.3 390.1L597.2 390.1L598.1 390.0L598.9 389.9L599.8 389.8L600.7 389.8L601.6 389.7L602.4 389.6L603.3 389.5L604.2 389.3L605.1 389.2L605.9 389.0L606.8 388.8L607.7 388.6L608.6 388.4L609.4 388.1L610.3 387.7L611.2 387.3L612.1 386.9L612.5 386.6L612.7 386.4L613.0 386.3L613.2 386.1L613.4 385.9L613.6 385.8L613.8 385.6L614.0 385.4L614.3 385.2L614.5 385.0L614.7 384.7L614.9 384.5L615.1 384.2L615.4 383.9L615.6 383.7L615.8 383.3L616.0 383.0L616.2 382.7L616.5 382.3L616.7 381.9L616.9 381.5L617.1 381.1L617.3 380.6L617.5 380.1L617.8 379.6L618.0 379.0L618.2 378.4L618.4 377.7L618.6 377.0L618.9 376.3L619.1 375.5L619.3 374.6L619.5 373.7L619.7 372.8L620.0 371.7L620.2 370.6L620.4 369.5L620.6 368.2L620.8 366.9L621.1 365.5L621.3 364.1L621.5 362.6L621.7 361.0L621.9 359.4L622.1 357.8L622.4 356.2L622.6 354.5L622.8 352.9L623.0 351.4L623.2 350.0L623.5 348.8L623.7 347.7L623.9 346.8L624.1 346.1L624.3 345.7L624.6 345.5L624.8 345.6L625.0 345.9L625.2 346.3L625.4 347.0L625.7 347.8L625.9 348.8L626.1 349.8L626.3 350.9L626.5 352.0L626.7 353.1L627.0 354.3L627.2 355.4L627.4 356.6L627.6 357.8L627.8 358.9L628.1 360.1L628.3 361.3L628.5 362.4L628.7 363.6L628.9 364.8L629.2 365.9L629.4 367.1L629.6 368.2L629.8 369.3L630.0 370.3L630.2 371.3L630.5 372.3L630.7 373.3L630.9 374.1L631.1 375.0L631.3 375.8L631.6 376.5L631.8 377.3L632.0 377.9L632.2 378.6L632.4 379.2L632.7 379.7L632.9 380.2L633.1 380.7L633.3 381.2L633.5 381.6L633.8 382.0L634.0 382.4L634.2 382.8L634.4 383.1L634.6 383.5L634.8 383.8L635.1 384.0L635.3 384.3L635.5 384.6L635.7 384.8L635.9 385.0L636.2 385.3L636.4 385.5L636.6 385.7L636.8 385.8L637.0 386.0L637.3 386.2L637.5 386.3L637.7 386.5L637.9 386.6L638.1 386.8L638.4 386.9L638.6 387.0L638.8 387.2L639.0 387.3L639.2 387.4L639.4 387.5L639.7 387.6L639.9 387.7L640.1 387.8L640.3 387.9L640.5 387.9L640.8 388.0L641.0 388.1L641.2 388.2L641.4 388.2L641.6 388.3L641.9 388.4L642.7 388.6L643.6 388.8L644.5 389.0L645.4 389.2L646.2 389.3L647.1 389.4L648.0 389.6L648.9 389.7L649.7 389.7L650.6 389.8L651.5 389.9L652.4 390.0L653.2 390.0L654.1 390.1L655.0 390.1L655.9 390.2L656.7 390.2L657.6 390.2L658.5 390.3L659.4 390.3L660.2 390.3L661.1 390.4L662.0 390.4L662.9 390.4L663.7 390.4L664.6 390.5L665.5 390.5L666.4 390.5L667.3 390.5L668.1 390.5L669.0 390.6L669.9 390.6L670.8 390.6L671.6 390.6L672.5 390.6L673.4 390.6L674.3 390.6L675.1 390.6L676.0 390.6L676.9 390.7L677.8 390.7L678.6 390.7L679.5 390.7L680.4 390.7L681.3 390.7L682.1 390.7" fill="none" stroke="#00c000" stroke-width="2.9" stroke-linejoin="round" stroke-linecap="round" clip-path="url(#cd)" />
<path d="M426.4 391.3L427.3 391.3L428.2 391.3L429.0 391.3L429.9 391.3L430.8 391.4L431.7 391.4L432.5 391.4L433.4 391.4L434.3 391.4L435.2 391.4L436.0 391.5L436.9 391.5L437.8 391.5L438.7 391.5L439.5 391.6L440.4 391.6L441.3 391.6L442.2 391.7L443.0 391.7L443.9 391.7L444.8 391.8L445.7 391.8L446.5 391.9L447.4 391.9L448.3 392.0L449.2 392.0L450.0 392.1L450.9 392.2L451.8 392.2L452.7 392.3L453.5 392.4L454.4 392.5L455.3 392.6L456.2 392.7L457.1 392.8L457.9 393.0L458.8 393.1L459.7 393.3L460.6 393.5L461.4 393.7L462.3 394.0L462.9 394.2L463.1 394.3L463.2 394.3L463.3 394.3L463.5 394.4L463.8 394.5L464.0 394.6L464.1 394.6L464.2 394.7L464.4 394.8L464.6 394.9L464.9 395.0L465.1 395.1L465.3 395.2L465.5 395.3L465.7 395.4L465.8 395.4L466.0 395.5L466.2 395.6L466.4 395.7L466.6 395.9L466.7 395.9L466.8 396.0L467.1 396.2L467.3 396.3L467.5 396.5L467.6 396.5L467.7 396.6L467.9 396.8L468.1 397.0L468.4 397.2L468.6 397.3L468.8 397.5L469.0 397.8L469.2 398.0L469.3 398.1L469.5 398.2L469.7 398.5L469.9 398.7L470.1 399.0L470.2 399.1L470.3 399.3L470.6 399.6L470.8 399.9L471.0 400.2L471.1 400.3L471.2 400.5L471.4 400.9L471.7 401.3L471.9 401.7L471.9 401.8L472.1 402.1L472.3 402.6L472.5 403.1L472.7 403.6L472.8 403.8L473.0 404.1L473.2 404.7L473.4 405.3L473.6 406.0L473.7 406.3L473.8 406.7L474.1 407.5L474.3 408.3L474.5 409.2L474.6 409.5L474.7 410.2L474.9 411.2L475.2 412.3L475.4 413.5L475.4 413.9L475.6 414.8L475.8 416.3L476.0 417.8L476.2 419.5L476.3 420.1L476.5 421.4L476.7 423.4L476.9 425.7L477.1 428.1L477.2 429.0L477.3 430.8L477.6 433.8L477.8 437.0L478.0 440.5L478.1 441.7L478.2 444.3L478.4 448.3L478.7 452.6L478.9 457.0L478.9 458.4L479.1 461.4L479.3 465.7L479.5 469.7L479.8 473.2L479.8 474.2L480.0 475.9L480.2 477.7L480.4 478.4L480.6 478.0L480.7 477.7L480.8 476.7L481.1 474.4L481.3 471.5L481.5 468.2L481.6 467.0L481.7 464.6L481.9 461.0L482.2 457.5L482.4 454.2L482.5 453.2L482.6 451.2L482.8 448.5L483.0 446.1L483.3 444.0L483.3 443.4L483.5 442.3L483.7 440.8L483.9 439.6L484.1 438.7L484.2 438.4L484.3 437.9L484.6 437.3L484.8 436.9L485.0 436.6L485.1 436.5L485.2 436.3L485.4 436.1L485.7 435.8L485.9 435.4L486.0 435.3L486.1 435.0L486.3 434.4L486.5 433.7L486.8 432.8L486.8 432.5L487.0 431.7L487.2 430.6L487.4 429.2L487.6 427.8L487.7 427.3L487.9 426.3L488.1 424.8L488.3 423.2L488.5 421.6L488.6 421.1L488.7 420.1L488.9 418.6L489.2 417.2L489.4 415.8L489.5 415.4L489.6 414.5L489.8 413.3L490.0 412.1L490.3 411.0L490.3 410.6L490.5 410.0L490.7 409.0L490.9 408.1L491.1 407.2L491.2 407.0L491.4 406.4L491.6 405.7L491.8 405.0L492.0 404.4L492.1 404.2L492.2 403.8L492.5 403.2L492.7 402.7L492.9 402.1L493.0 402.0L493.1 401.7L493.3 401.2L493.5 400.8L493.8 400.4L493.8 400.3L494.0 400.1L494.2 399.7L494.4 399.4L494.6 399.1L494.7 399.0L494.9 398.8L495.1 398.5L495.3 398.2L495.5 398.0L495.6 397.9L495.7 397.8L496.0 397.5L496.2 397.3L496.4 397.1L496.5 397.0L496.6 396.9L496.8 396.7L497.0 396.6L497.3 396.4L497.3 396.3L497.5 396.2L497.7 396.1L497.9 395.9L498.1 395.8L498.2 395.7L498.4 395.6L498.6 395.5L498.8 395.4L499.0 395.3L499.1 395.2L499.2 395.2L500.0 394.8L500.8 394.4L501.7 394.1L502.6 393.8L503.5 393.6L504.3 393.4L505.2 393.2L506.1 393.0L507.0 392.9L507.9 392.7L508.7 392.6L509.6 392.5L510.5 392.4L511.4 392.3L512.2 392.2L513.1 392.1L514.0 392.1L514.9 392.0L515.7 391.9L516.6 391.9L517.5 391.8L518.4 391.8L519.2 391.7L520.1 391.7L521.0 391.7L521.9 391.6L522.7 391.6L523.6 391.6L524.5 391.5L525.4 391.5L526.2 391.5L527.1 391.5L528.0 391.4L528.9 391.4L529.7 391.4L530.6 391.4L531.5 391.3L532.4 391.3L533.3 391.3L534.1 391.3L535.0 391.3L535.9 391.3L536.8 391.2L537.6 391.2L538.5 391.2L539.4 391.2L540.3 391.2L541.1 391.2L542.0 391.2L542.9 391.2L543.8 391.1L544.6 391.1L545.5 391.1L546.4 391.1L547.3 391.1L548.1 391.1L549.0 391.1L549.9 391.1L550.8 391.1L551.6 391.1L552.5 391.0L553.4 391.0L554.3 391.0L555.1 391.0L556.0 391.0L556.9 391.0L557.8 391.0L558.6 391.0L559.5 391.0L560.4 391.0L561.3 391.0L562.2 391.0L563.0 390.9L563.9 390.9L564.8 390.9L565.7 390.9L566.5 390.9L567.4 390.9L568.3 390.9L569.2 390.9L570.0 390.9L570.9 390.9L571.8 390.9L572.7 390.9L573.5 390.8L574.4 390.8L575.3 390.8L576.2 390.8L577.0 390.8L577.9 390.8L578.8 390.8L579.7 390.8L580.5 390.8L581.4 390.7L582.3 390.7L583.2 390.7L584.0 390.7L584.9 390.7L585.8 390.7L586.7 390.7L587.6 390.6L588.4 390.6L589.3 390.6L590.2 390.6L591.1 390.6L591.9 390.5L592.8 390.5L593.7 390.5L594.6 390.5L595.4 390.4L596.3 390.4L597.2 390.4L598.1 390.3L598.9 390.3L599.8 390.3L600.7 390.2L601.6 390.2L602.4 390.1L603.3 390.0L604.2 390.0L605.1 389.9L605.9 389.8L606.8 389.7L607.7 389.6L608.6 389.5L609.4 389.4L610.3 389.3L611.2 389.1L612.1 389.0L612.5 388.9L612.7 388.8L613.0 388.8L613.2 388.7L613.4 388.7L613.6 388.6L613.8 388.6L614.0 388.5L614.3 388.5L614.5 388.4L614.7 388.3L614.9 388.3L615.1 388.2L615.4 388.1L615.6 388.1L615.8 388.0L616.0 387.9L616.2 387.8L616.5 387.8L616.7 387.7L616.9 387.6L617.1 387.5L617.3 387.4L617.5 387.3L617.8 387.2L618.0 387.1L618.2 387.0L618.4 386.9L618.6 386.7L618.9 386.6L619.1 386.5L619.3 386.4L619.5 386.2L619.7 386.1L620.0 385.9L620.2 385.7L620.4 385.6L620.6 385.4L620.8 385.2L621.1 385.0L621.3 384.8L621.5 384.5L621.7 384.3L621.9 384.0L622.1 383.8L622.4 383.5L622.6 383.1L622.8 382.8L623.0 382.4L623.2 382.0L623.5 381.6L623.7 381.1L623.9 380.5L624.1 380.0L624.3 379.4L624.6 378.7L624.8 378.0L625.0 377.2L625.2 376.4L625.4 375.6L625.7 374.7L625.9 373.9L626.1 373.2L626.3 372.5L626.5 372.0L626.7 371.7L627.0 371.7L627.2 371.8L627.4 372.1L627.6 372.6L627.8 373.3L628.1 374.1L628.3 374.9L628.5 375.7L628.7 376.5L628.9 377.3L629.2 378.1L629.4 378.8L629.6 379.5L629.8 380.1L630.0 380.7L630.2 381.2L630.5 381.6L630.7 382.1L630.9 382.5L631.1 382.9L631.3 383.2L631.6 383.5L631.8 383.8L632.0 384.1L632.2 384.3L632.4 384.6L632.7 384.8L632.9 385.0L633.1 385.2L633.3 385.4L633.5 385.6L633.8 385.8L634.0 385.9L634.2 386.1L634.4 386.2L634.6 386.4L634.8 386.5L635.1 386.6L635.3 386.8L635.5 386.9L635.7 387.0L635.9 387.1L636.2 387.2L636.4 387.3L636.6 387.4L636.8 387.5L637.0 387.6L637.3 387.7L637.5 387.8L637.7 387.8L637.9 387.9L638.1 388.0L638.4 388.1L638.6 388.1L638.8 388.2L639.0 388.3L639.2 388.3L639.4 388.4L639.7 388.5L639.9 388.5L640.1 388.6L640.3 388.6L640.5 388.7L640.8 388.7L641.0 388.8L641.2 388.8L641.4 388.9L641.6 388.9L641.9 389.0L642.7 389.1L643.6 389.3L644.5 389.4L645.4 389.5L646.2 389.6L647.1 389.7L648.0 389.8L648.9 389.9L649.7 389.9L650.6 390.0L651.5 390.1L652.4 390.1L653.2 390.2L654.1 390.2L655.0 390.2L655.9 390.3L656.7 390.3L657.6 390.4L658.5 390.4L659.4 390.4L660.2 390.4L661.1 390.5L662.0 390.5L662.9 390.5L663.7 390.5L664.6 390.5L665.5 390.6L666.4 390.6L667.3 390.6L668.1 390.6L669.0 390.6L669.9 390.6L670.8 390.6L671.6 390.6L672.5 390.7L673.4 390.7L674.3 390.7L675.1 390.7L676.0 390.7L676.9 390.7L677.8 390.7L678.6 390.7L679.5 390.7L680.4 390.7L681.3 390.7L682.1 390.7" fill="none" stroke="#000" stroke-width="2.6" stroke-linejoin="round" stroke-linecap="butt" clip-path="url(#cd)" stroke-dasharray="2.2 2.4"/>
<rect x="430.1" y="294.2" width="248.00" height="193.10" fill="none" stroke="#000" stroke-width="1.55"/>
<line x1="451.94" y1="487.3" x2="451.94" y2="477.50" stroke="#000" stroke-width="1.25"/>
<line x1="524.93" y1="487.3" x2="524.93" y2="477.50" stroke="#000" stroke-width="1.25"/>
<line x1="597.92" y1="487.3" x2="597.92" y2="477.50" stroke="#000" stroke-width="1.25"/>
<line x1="670.90" y1="487.3" x2="670.90" y2="477.50" stroke="#000" stroke-width="1.25"/>
<line x1="488.44" y1="487.3" x2="488.44" y2="482.10" stroke="#000" stroke-width="1.25"/>
<line x1="561.42" y1="487.3" x2="561.42" y2="482.10" stroke="#000" stroke-width="1.25"/>
<line x1="634.41" y1="487.3" x2="634.41" y2="482.10" stroke="#000" stroke-width="1.25"/>
<line x1="430.1" y1="477.52" x2="435.30" y2="477.52" stroke="#000" stroke-width="1.15"/>
<line x1="430.1" y1="465.15" x2="435.30" y2="465.15" stroke="#000" stroke-width="1.15"/>
<line x1="430.1" y1="452.77" x2="435.30" y2="452.77" stroke="#000" stroke-width="1.15"/>
<line x1="430.1" y1="440.40" x2="439.90" y2="440.40" stroke="#000" stroke-width="1.15"/>
<line x1="430.1" y1="428.02" x2="435.30" y2="428.02" stroke="#000" stroke-width="1.15"/>
<line x1="430.1" y1="415.65" x2="435.30" y2="415.65" stroke="#000" stroke-width="1.15"/>
<line x1="430.1" y1="403.27" x2="435.30" y2="403.27" stroke="#000" stroke-width="1.15"/>
<line x1="430.1" y1="390.90" x2="439.90" y2="390.90" stroke="#000" stroke-width="1.15"/>
<line x1="430.1" y1="378.52" x2="435.30" y2="378.52" stroke="#000" stroke-width="1.15"/>
<line x1="430.1" y1="366.15" x2="435.30" y2="366.15" stroke="#000" stroke-width="1.15"/>
<line x1="430.1" y1="353.77" x2="435.30" y2="353.77" stroke="#000" stroke-width="1.15"/>
<line x1="430.1" y1="341.40" x2="439.90" y2="341.40" stroke="#000" stroke-width="1.15"/>
<line x1="430.1" y1="329.02" x2="435.30" y2="329.02" stroke="#000" stroke-width="1.15"/>
<line x1="430.1" y1="316.65" x2="435.30" y2="316.65" stroke="#000" stroke-width="1.15"/>
<line x1="430.1" y1="304.27" x2="435.30" y2="304.27" stroke="#000" stroke-width="1.15"/>
<line x1="605.1" y1="420.6" x2="630.6" y2="420.6" stroke="#00c000" stroke-width="2.6"/>
<line x1="605.1" y1="444.2" x2="630.6" y2="444.2" stroke="#000" stroke-width="2.3" stroke-dasharray="2.4 2.35"/>
<line x1="249" y1="75.9" x2="277.8" y2="75.9" stroke="#ff1a08" stroke-width="2.6"/>
<line x1="249" y1="102.85" x2="277.8" y2="102.85" stroke="#0018c8" stroke-width="2.6"/>
<rect x="303.0" y="64.9" width="7.0" height="1.5" fill="#000" stroke="none"/>
<rect x="303.0" y="91.75" width="7.0" height="1.4" fill="#000" stroke="none"/>
<rect x="305.8" y="89.1" width="1.4" height="6.9" fill="#000" stroke="none"/>
<path transform="translate(0,0)" d="M293.45 71.1V84.5M293.45 76.8C293.45 79.5 294.8 80.6 296.7 80.6C298.7 80.6 300.05 79.3 300.05 76.8M300.05 71.1V79.0C300.05 80.1 300.7 80.6 301.9 80.6" fill="none" stroke="#000" stroke-width="2.0" stroke-linecap="butt"/>
<path transform="translate(0,26.7)" d="M293.45 71.1V84.5M293.45 76.8C293.45 79.5 294.8 80.6 296.7 80.6C298.7 80.6 300.05 79.3 300.05 76.8M300.05 71.1V79.0C300.05 80.1 300.7 80.6 301.9 80.6" fill="none" stroke="#000" stroke-width="2.0" stroke-linecap="butt"/>
<text x="48.33" y="51.72" font-size="16.5" font-weight="normal" textLength="22.97" lengthAdjust="spacingAndGlyphs">0.6</text>
<text x="48.34" y="81.88" font-size="16.5" font-weight="normal" textLength="22.72" lengthAdjust="spacingAndGlyphs">0.4</text>
<text x="48.33" y="112.04" font-size="16.5" font-weight="normal" textLength="23.08" lengthAdjust="spacingAndGlyphs">0.2</text>
<text x="48.33" y="142.20" font-size="16.5" font-weight="normal" textLength="22.89" lengthAdjust="spacingAndGlyphs">0.0</text>
<text x="48.33" y="163.34" font-size="16.5" font-weight="normal" textLength="23.08" lengthAdjust="spacingAndGlyphs">0.2</text>
<text x="48.33" y="183.70" font-size="16.5" font-weight="normal" textLength="22.89" lengthAdjust="spacingAndGlyphs">0.0</text>
<text x="43.40" y="204.06" font-size="16.5" font-weight="normal" textLength="27.99" lengthAdjust="spacingAndGlyphs">-0.2</text>
<text x="401.38" y="51.72" font-size="16.5" font-weight="normal" textLength="22.97" lengthAdjust="spacingAndGlyphs">0.6</text>
<text x="401.39" y="81.88" font-size="16.5" font-weight="normal" textLength="22.72" lengthAdjust="spacingAndGlyphs">0.4</text>
<text x="401.38" y="112.04" font-size="16.5" font-weight="normal" textLength="23.08" lengthAdjust="spacingAndGlyphs">0.2</text>
<text x="401.38" y="142.20" font-size="16.5" font-weight="normal" textLength="22.89" lengthAdjust="spacingAndGlyphs">0.0</text>
<text x="401.38" y="163.34" font-size="16.5" font-weight="normal" textLength="23.08" lengthAdjust="spacingAndGlyphs">0.2</text>
<text x="401.38" y="183.70" font-size="16.5" font-weight="normal" textLength="22.89" lengthAdjust="spacingAndGlyphs">0.0</text>
<text x="396.45" y="204.06" font-size="16.5" font-weight="normal" textLength="27.99" lengthAdjust="spacingAndGlyphs">-0.2</text>
<text x="48.33" y="321.42" font-size="16.5" font-weight="normal" textLength="22.97" lengthAdjust="spacingAndGlyphs">0.6</text>
<text x="48.34" y="351.58" font-size="16.5" font-weight="normal" textLength="22.72" lengthAdjust="spacingAndGlyphs">0.4</text>
<text x="48.33" y="381.74" font-size="16.5" font-weight="normal" textLength="23.08" lengthAdjust="spacingAndGlyphs">0.2</text>
<text x="48.33" y="411.90" font-size="16.5" font-weight="normal" textLength="22.89" lengthAdjust="spacingAndGlyphs">0.0</text>
<text x="48.33" y="433.04" font-size="16.5" font-weight="normal" textLength="23.08" lengthAdjust="spacingAndGlyphs">0.2</text>
<text x="48.33" y="453.40" font-size="16.5" font-weight="normal" textLength="22.89" lengthAdjust="spacingAndGlyphs">0.0</text>
<text x="43.40" y="473.76" font-size="16.5" font-weight="normal" textLength="27.99" lengthAdjust="spacingAndGlyphs">-0.2</text>
<text x="401.38" y="346.00" font-size="16.5" font-weight="normal" textLength="23.08" lengthAdjust="spacingAndGlyphs">0.2</text>
<text x="401.38" y="395.50" font-size="16.5" font-weight="normal" textLength="22.89" lengthAdjust="spacingAndGlyphs">0.0</text>
<text x="396.45" y="445.00" font-size="16.5" font-weight="normal" textLength="27.99" lengthAdjust="spacingAndGlyphs">-0.2</text>
<text x="86.69" y="236.60" font-size="16.5" font-weight="normal" textLength="5.39" lengthAdjust="spacingAndGlyphs">-</text>
<path d="M93.43 226.85C95.03 226.60 95.38 226.00 95.98 225.25L97.88 225.25L97.88 236.60L95.98 236.60L95.98 228.85L93.43 228.85Z" stroke="none"/>
<text x="101.27" y="236.60" font-size="16.5" font-weight="normal" textLength="9.13" lengthAdjust="spacingAndGlyphs">0</text>
<text x="166.82" y="236.60" font-size="16.5" font-weight="normal" textLength="7.97" lengthAdjust="spacingAndGlyphs">0</text>
<path d="M235.97 226.85C237.57 226.60 238.02 226.00 238.62 225.25L240.52 225.25L240.52 236.60L238.62 236.60L238.62 228.85L235.97 228.85Z" stroke="none"/>
<text x="244.12" y="236.60" font-size="16.5" font-weight="normal" textLength="8.90" lengthAdjust="spacingAndGlyphs">0</text>
<text x="306.46" y="236.60" font-size="16.5" font-weight="normal" textLength="18.86" lengthAdjust="spacingAndGlyphs">20</text>
<text x="440.10" y="236.60" font-size="16.5" font-weight="normal" textLength="5.39" lengthAdjust="spacingAndGlyphs">-</text>
<path d="M446.84 226.85C448.44 226.60 448.79 226.00 449.39 225.25L451.29 225.25L451.29 236.60L449.39 236.60L449.39 228.85L446.84 228.85Z" stroke="none"/>
<text x="454.68" y="236.60" font-size="16.5" font-weight="normal" textLength="9.13" lengthAdjust="spacingAndGlyphs">0</text>
<text x="520.95" y="236.60" font-size="16.5" font-weight="normal" textLength="7.97" lengthAdjust="spacingAndGlyphs">0</text>
<path d="M590.82 226.85C592.42 226.60 592.87 226.00 593.47 225.25L595.37 225.25L595.37 236.60L593.47 236.60L593.47 228.85L590.82 228.85Z" stroke="none"/>
<text x="598.97" y="236.60" font-size="16.5" font-weight="normal" textLength="8.90" lengthAdjust="spacingAndGlyphs">0</text>
<text x="662.02" y="236.60" font-size="16.5" font-weight="normal" textLength="18.86" lengthAdjust="spacingAndGlyphs">20</text>
<text x="86.69" y="507.40" font-size="16.5" font-weight="normal" textLength="5.39" lengthAdjust="spacingAndGlyphs">-</text>
<path d="M93.43 497.65C95.03 497.40 95.38 496.80 95.98 496.05L97.88 496.05L97.88 507.40L95.98 507.40L95.98 499.65L93.43 499.65Z" stroke="none"/>
<text x="101.27" y="507.40" font-size="16.5" font-weight="normal" textLength="9.13" lengthAdjust="spacingAndGlyphs">0</text>
<text x="166.82" y="507.40" font-size="16.5" font-weight="normal" textLength="7.97" lengthAdjust="spacingAndGlyphs">0</text>
<path d="M235.97 497.65C237.57 497.40 238.02 496.80 238.62 496.05L240.52 496.05L240.52 507.40L238.62 507.40L238.62 499.65L235.97 499.65Z" stroke="none"/>
<text x="244.12" y="507.40" font-size="16.5" font-weight="normal" textLength="8.90" lengthAdjust="spacingAndGlyphs">0</text>
<text x="306.46" y="507.40" font-size="16.5" font-weight="normal" textLength="18.86" lengthAdjust="spacingAndGlyphs">20</text>
<text x="440.10" y="507.40" font-size="16.5" font-weight="normal" textLength="5.39" lengthAdjust="spacingAndGlyphs">-</text>
<path d="M446.84 497.65C448.44 497.40 448.79 496.80 449.39 496.05L451.29 496.05L451.29 507.40L449.39 507.40L449.39 499.65L446.84 499.65Z" stroke="none"/>
<text x="454.68" y="507.40" font-size="16.5" font-weight="normal" textLength="9.13" lengthAdjust="spacingAndGlyphs">0</text>
<text x="520.95" y="507.40" font-size="16.5" font-weight="normal" textLength="7.97" lengthAdjust="spacingAndGlyphs">0</text>
<path d="M590.82 497.65C592.42 497.40 592.87 496.80 593.47 496.05L595.37 496.05L595.37 507.40L593.47 507.40L593.47 499.65L590.82 499.65Z" stroke="none"/>
<text x="598.97" y="507.40" font-size="16.5" font-weight="normal" textLength="8.90" lengthAdjust="spacingAndGlyphs">0</text>
<text x="662.02" y="507.40" font-size="16.5" font-weight="normal" textLength="18.86" lengthAdjust="spacingAndGlyphs">20</text>
<text x="145.13" y="257.60" font-size="18.2" font-weight="normal" textLength="100.57" lengthAdjust="spacingAndGlyphs">Energy (eV)</text>
<text x="504.02" y="257.80" font-size="18.2" font-weight="normal" textLength="101.29" lengthAdjust="spacingAndGlyphs">Energy (eV)</text>
<text x="149.92" y="527.40" font-size="18.2" font-weight="normal" textLength="101.08" lengthAdjust="spacingAndGlyphs">Energy (eV)</text>
<text x="506.62" y="524.90" font-size="18.2" font-weight="normal" textLength="101.08" lengthAdjust="spacingAndGlyphs">Energy (eV)</text>
<text transform="translate(22.00,200.77) rotate(-90)" x="0" y="0" font-size="18.2" font-weight="normal" textLength="165.97" lengthAdjust="spacingAndGlyphs">Intensity (arb. units)</text>
<text transform="translate(22.00,473.08) rotate(-90)" x="0" y="0" font-size="18.2" font-weight="normal" textLength="166.43" lengthAdjust="spacingAndGlyphs">Intensity (arb. units)</text>
<text x="154.10" y="48.70" font-size="16.3" font-weight="normal" textLength="82.93" lengthAdjust="spacingAndGlyphs">Tetrahedral</text>
<text x="242.15" y="48.70" font-size="16.3" font-weight="normal" textLength="20.64" lengthAdjust="spacingAndGlyphs">Cu</text>
<text x="263.89" y="38.80" font-size="11.5" font-weight="normal" textLength="13.20" lengthAdjust="spacingAndGlyphs">2+</text>
<text x="281.08" y="48.70" font-size="16.3" font-weight="normal" textLength="33.84" lengthAdjust="spacingAndGlyphs">(SO)</text>
<text x="261.70" y="166.30" font-size="16.5" font-weight="normal" textLength="48.71" lengthAdjust="spacingAndGlyphs">XMCD</text>
<text x="515.20" y="48.70" font-size="16.3" font-weight="normal" textLength="82.32" lengthAdjust="spacingAndGlyphs">Tetrahedral</text>
<text x="603.15" y="48.70" font-size="16.3" font-weight="normal" textLength="20.86" lengthAdjust="spacingAndGlyphs">Cu</text>
<text x="624.90" y="38.80" font-size="11.5" font-weight="normal" textLength="13.09" lengthAdjust="spacingAndGlyphs">2+</text>
<text x="641.89" y="48.70" font-size="16.3" font-weight="normal" textLength="28.22" lengthAdjust="spacingAndGlyphs">(JT)</text>
<text x="158.09" y="318.40" font-size="16.3" font-weight="normal" textLength="81.45" lengthAdjust="spacingAndGlyphs">Octahedral</text>
<text x="244.56" y="318.40" font-size="16.3" font-weight="normal" textLength="20.42" lengthAdjust="spacingAndGlyphs">Cu</text>
<text x="265.68" y="308.50" font-size="11.5" font-weight="normal" textLength="13.42" lengthAdjust="spacingAndGlyphs">2+</text>
<text x="283.09" y="318.40" font-size="16.3" font-weight="normal" textLength="31.83" lengthAdjust="spacingAndGlyphs">(Oh)</text>
<text x="542.60" y="318.40" font-size="16.5" font-weight="normal" textLength="128.00" lengthAdjust="spacingAndGlyphs">XMCD simulation</text>
<text x="637.43" y="425.20" font-size="16.5" font-weight="normal" textLength="17.77" lengthAdjust="spacingAndGlyphs">JT</text>
<text x="637.65" y="448.40" font-size="16.5" font-weight="normal" textLength="23.14" lengthAdjust="spacingAndGlyphs">SO</text>
<text x="1.00" y="16.70" font-size="22" font-weight="bold" textLength="10.23" lengthAdjust="spacingAndGlyphs" stroke-width="0.6">a</text>
<text x="371.63" y="16.50" font-size="22" font-weight="bold" textLength="12.73" lengthAdjust="spacingAndGlyphs" stroke-width="0.6">b</text>
<text x="1.03" y="285.40" font-size="22" font-weight="bold" textLength="10.94" lengthAdjust="spacingAndGlyphs" stroke-width="0.6">c</text>
<text x="371.77" y="285.20" font-size="22" font-weight="bold" textLength="12.36" lengthAdjust="spacingAndGlyphs" stroke-width="0.6">d</text></g></svg>
</body></html>
